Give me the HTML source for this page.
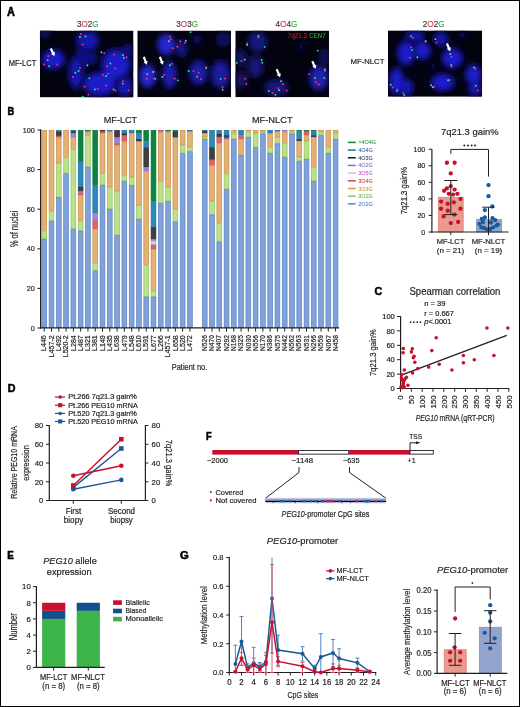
<!DOCTYPE html>
<html><head><meta charset="utf-8"><title>Figure</title><style>
html,body{margin:0;padding:0;background:#fff;width:520px;height:707px;overflow:hidden;}
svg{display:block;will-change:transform;}
text{font-family:"Liberation Sans",sans-serif;}
</style></head><body>
<svg width="520" height="707" viewBox="0 0 520 707" fill="#231f20">
<defs>
<filter id="bl" x="-50%" y="-50%" width="200%" height="200%"><feGaussianBlur stdDeviation="2.4"/></filter>
<filter id="bl2" x="-50%" y="-50%" width="200%" height="200%"><feGaussianBlur stdDeviation="0.45"/></filter>
</defs>
<rect x="0" y="0" width="520" height="707" fill="#fff"/>
<text x="7.1" y="16" font-size="12" fill="#000" stroke="#000" stroke-width="0.55" font-weight="bold" textLength="7.9" lengthAdjust="spacingAndGlyphs">A</text>
<text x="76.9" y="26.7" font-size="9.8" stroke-width="0.2" textLength="21.7" lengthAdjust="spacingAndGlyphs"><tspan fill="#3a3a3c" stroke="#3a3a3c">3</tspan><tspan fill="#e0475e" stroke="#e0475e">O</tspan><tspan fill="#3a3a3c" stroke="#3a3a3c">2</tspan><tspan fill="#3fae49" stroke="#3fae49">G</tspan></text>
<text x="176.3" y="26.7" font-size="9.8" stroke-width="0.2" textLength="21.7" lengthAdjust="spacingAndGlyphs"><tspan fill="#3a3a3c" stroke="#3a3a3c">3</tspan><tspan fill="#e0475e" stroke="#e0475e">O</tspan><tspan fill="#3a3a3c" stroke="#3a3a3c">3</tspan><tspan fill="#3fae49" stroke="#3fae49">G</tspan></text>
<text x="275.6" y="26.7" font-size="9.8" stroke-width="0.2" textLength="21.7" lengthAdjust="spacingAndGlyphs"><tspan fill="#3a3a3c" stroke="#3a3a3c">4</tspan><tspan fill="#e0475e" stroke="#e0475e">O</tspan><tspan fill="#3a3a3c" stroke="#3a3a3c">4</tspan><tspan fill="#3fae49" stroke="#3fae49">G</tspan></text>
<text x="422.8" y="26.7" font-size="9.8" stroke-width="0.2" textLength="21.8" lengthAdjust="spacingAndGlyphs"><tspan fill="#3a3a3c" stroke="#3a3a3c">2</tspan><tspan fill="#e0475e" stroke="#e0475e">O</tspan><tspan fill="#3a3a3c" stroke="#3a3a3c">2</tspan><tspan fill="#3fae49" stroke="#3fae49">G</tspan></text>
<text x="8.7" y="65.9" font-size="8.2" stroke="#231f20" stroke-width="0.2" textLength="27.6" lengthAdjust="spacingAndGlyphs">MF-LCT</text>
<text x="350.6" y="64.4" font-size="8" stroke="#231f20" stroke-width="0.2" textLength="33.8" lengthAdjust="spacingAndGlyphs">MF-NLCT</text>
<clipPath id="clip1"><rect x="39.9" y="30.6" width="93.6" height="66.8"/></clipPath>
<g clip-path="url(#clip1)">
<rect x="39.9" y="30.6" width="93.6" height="66.8" fill="#03030f" />
<g filter="url(#bl)">
<ellipse cx="53.4" cy="59.3" rx="13" ry="11.2" fill="#0d0d66"/>
<ellipse cx="87.5" cy="41" rx="13" ry="11.5" fill="#0a0a59"/>
<ellipse cx="75.8" cy="72.7" rx="8.5" ry="18.5" fill="#0a0a59"/>
<ellipse cx="116" cy="64.3" rx="16.5" ry="17.5" fill="#0d0d66"/>
<ellipse cx="99.6" cy="84" rx="18.5" ry="13.5" fill="#0d0d66"/>
<ellipse cx="124.8" cy="86.8" rx="9.5" ry="11" fill="#0a0a59"/>
<ellipse cx="91" cy="58" rx="6.5" ry="7.5" fill="#080847"/>
<ellipse cx="45" cy="33" rx="7.5" ry="5.5" fill="#070730"/>
<ellipse cx="81" cy="55" rx="6.5" ry="7.5" fill="#080847"/>
<ellipse cx="108" cy="77" rx="10.5" ry="9.5" fill="#0d0d66"/>
<ellipse cx="84" cy="60" rx="5.5" ry="9.5" fill="#080847"/>
<ellipse cx="128" cy="50" rx="5.5" ry="7.5" fill="#080847"/>
<ellipse cx="53.4" cy="59.3" rx="9.2" ry="7.76" fill="#1a1acc"/>
<ellipse cx="87.5" cy="41" rx="9.2" ry="8" fill="#1515b2"/>
<ellipse cx="75.8" cy="72.7" rx="5.6" ry="13.6" fill="#1515b2"/>
<ellipse cx="116" cy="64.3" rx="12" ry="12.8" fill="#1a1acc"/>
<ellipse cx="99.6" cy="84" rx="13.6" ry="9.6" fill="#1a1acc"/>
<ellipse cx="124.8" cy="86.8" rx="6.4" ry="7.6" fill="#1515b2"/>
<ellipse cx="91" cy="58" rx="4" ry="4.8" fill="#10108e"/>
<ellipse cx="45" cy="33" rx="4.8" ry="3.2" fill="#0e0e60"/>
<ellipse cx="81" cy="55" rx="4" ry="4.8" fill="#10108e"/>
<ellipse cx="108" cy="77" rx="7.2" ry="6.4" fill="#1a1acc"/>
<ellipse cx="84" cy="60" rx="3.2" ry="6.4" fill="#10108e"/>
<ellipse cx="128" cy="50" rx="3.2" ry="4.8" fill="#10108e"/>
</g>
<g filter="url(#bl2)">
<circle cx="80.91" cy="33.97" r="1" fill="#ff2a6a" />
<circle cx="82.78" cy="44.42" r="1" fill="#ff2a6a" />
<circle cx="104.23" cy="53.19" r="1" fill="#ff2a6a" />
<circle cx="114.12" cy="54.49" r="1" fill="#ff2a6a" />
<circle cx="126.62" cy="57.29" r="1" fill="#ff2a6a" />
<circle cx="48.26" cy="55.99" r="1" fill="#ff2a6a" />
<circle cx="43.97" cy="64.38" r="1" fill="#ff2a6a" />
<circle cx="57.22" cy="64.38" r="1" fill="#ff2a6a" />
<circle cx="79.98" cy="68.11" r="1" fill="#ff2a6a" />
<circle cx="73.07" cy="76.88" r="1" fill="#ff2a6a" />
<circle cx="107.03" cy="66.25" r="1" fill="#ff2a6a" />
<circle cx="115.43" cy="68.49" r="1" fill="#ff2a6a" />
<circle cx="102.93" cy="74.64" r="1" fill="#ff2a6a" />
<circle cx="107.96" cy="73.71" r="1" fill="#ff2a6a" />
<circle cx="84.64" cy="86.77" r="1" fill="#ff2a6a" />
<circle cx="97.7" cy="88.63" r="1" fill="#ff2a6a" />
<circle cx="106.1" cy="85.46" r="1" fill="#ff2a6a" />
<circle cx="122.89" cy="81.17" r="1" fill="#ff2a6a" />
<circle cx="128.49" cy="90.5" r="1" fill="#ff2a6a" />
<circle cx="115.43" cy="90.5" r="1" fill="#ff2a6a" />
<circle cx="88.37" cy="94.79" r="1" fill="#ff2a6a" />
<circle cx="79.98" cy="36.96" r="0.95" fill="#30f090" />
<circle cx="85.57" cy="36.4" r="0.95" fill="#30f090" />
<circle cx="101.43" cy="52.25" r="0.95" fill="#30f090" />
<circle cx="122.89" cy="55.05" r="0.95" fill="#30f090" />
<circle cx="123.82" cy="57.85" r="0.95" fill="#30f090" />
<circle cx="47.7" cy="60.09" r="0.95" fill="#30f090" />
<circle cx="49.19" cy="66.25" r="0.95" fill="#30f090" />
<circle cx="87.44" cy="65.31" r="0.95" fill="#30f090" />
<circle cx="75.31" cy="72.78" r="0.95" fill="#30f090" />
<circle cx="78.67" cy="70.91" r="0.95" fill="#30f090" />
<circle cx="110.39" cy="63.45" r="0.95" fill="#30f090" />
<circle cx="89.31" cy="78.37" r="0.95" fill="#30f090" />
<circle cx="106.1" cy="76.13" r="0.95" fill="#30f090" />
<circle cx="94.9" cy="89.57" r="0.95" fill="#30f090" />
<circle cx="122.89" cy="83.6" r="0.95" fill="#30f090" />
<circle cx="113.56" cy="89.57" r="0.95" fill="#30f090" />
<circle cx="82.78" cy="96.66" r="0.95" fill="#30f090" />
</g>
<polygon points="49.81,48.88 52.04,53.51 51,54.01 54.5,56.1 55.06,52.06 54.02,52.56 51.79,47.92" fill="#fff" filter="url(#bl2)"/>
</g>
<clipPath id="clip2"><rect x="137.3" y="30.6" width="93.7" height="66.7"/></clipPath>
<g clip-path="url(#clip2)">
<rect x="137.3" y="30.6" width="93.7" height="66.7" fill="#03030f" />
<g filter="url(#bl)">
<ellipse cx="166.1" cy="44.5" rx="10" ry="12" fill="#13136a"/>
<ellipse cx="181.5" cy="48.5" rx="6.5" ry="10" fill="#0b0b48"/>
<ellipse cx="147.7" cy="76" rx="9.5" ry="13" fill="#14146c"/>
<ellipse cx="169.4" cy="75" rx="8.5" ry="15.5" fill="#0f0f5a"/>
<ellipse cx="198.5" cy="72.7" rx="10.5" ry="14" fill="#0e0e56"/>
<ellipse cx="220.5" cy="74.5" rx="11" ry="16" fill="#0d0d50"/>
<ellipse cx="223.5" cy="39.3" rx="8.5" ry="8.5" fill="#080835"/>
<ellipse cx="197" cy="39.3" rx="6.5" ry="6.5" fill="#06062a"/>
<ellipse cx="166.1" cy="44.5" rx="6.8" ry="8.4" fill="#2626d4"/>
<ellipse cx="181.5" cy="48.5" rx="4" ry="6.8" fill="#161690"/>
<ellipse cx="147.7" cy="76" rx="6.4" ry="9.2" fill="#2828d8"/>
<ellipse cx="169.4" cy="75" rx="5.6" ry="11.2" fill="#1e1eb4"/>
<ellipse cx="198.5" cy="72.7" rx="7.2" ry="10" fill="#1c1cac"/>
<ellipse cx="220.5" cy="74.5" rx="7.6" ry="11.6" fill="#1a1aa0"/>
<ellipse cx="223.5" cy="39.3" rx="5.6" ry="5.6" fill="#10106a"/>
<ellipse cx="197" cy="39.3" rx="4" ry="4" fill="#0c0c55"/>
</g>
<g filter="url(#bl2)">
<circle cx="169.84" cy="36.47" r="1" fill="#ff2a6a" />
<circle cx="170.78" cy="39.3" r="1" fill="#ff2a6a" />
<circle cx="180.2" cy="41.18" r="1" fill="#ff2a6a" />
<circle cx="184.91" cy="42.69" r="1" fill="#ff2a6a" />
<circle cx="177.37" cy="46.83" r="1" fill="#ff2a6a" />
<circle cx="172.66" cy="48.34" r="1" fill="#ff2a6a" />
<circle cx="171.72" cy="63.78" r="1" fill="#ff2a6a" />
<circle cx="152.89" cy="72.26" r="1" fill="#ff2a6a" />
<circle cx="164.19" cy="74.7" r="1" fill="#ff2a6a" />
<circle cx="174.55" cy="78.85" r="1" fill="#ff2a6a" />
<circle cx="153.83" cy="78.47" r="1" fill="#ff2a6a" />
<circle cx="146.68" cy="78.85" r="1" fill="#ff2a6a" />
<circle cx="193.38" cy="70.94" r="1" fill="#ff2a6a" />
<circle cx="198.65" cy="72.82" r="1" fill="#ff2a6a" />
<circle cx="200.91" cy="79.22" r="1" fill="#ff2a6a" />
<circle cx="206.19" cy="67.17" r="1" fill="#ff2a6a" />
<circle cx="225.02" cy="78.47" r="1" fill="#ff2a6a" />
<circle cx="222.57" cy="87.32" r="1" fill="#ff2a6a" />
<circle cx="168.9" cy="41.18" r="0.95" fill="#30f090" />
<circle cx="185.85" cy="40.81" r="0.95" fill="#30f090" />
<circle cx="169.84" cy="65.29" r="0.95" fill="#30f090" />
<circle cx="153.46" cy="71.69" r="0.95" fill="#30f090" />
<circle cx="155.34" cy="78.85" r="0.95" fill="#30f090" />
<circle cx="147.24" cy="74.14" r="0.95" fill="#30f090" />
<circle cx="162.31" cy="76.96" r="0.95" fill="#30f090" />
<circle cx="177.94" cy="80.35" r="0.95" fill="#30f090" />
<circle cx="188.67" cy="70.94" r="0.95" fill="#30f090" />
<circle cx="197.15" cy="76.59" r="0.95" fill="#30f090" />
<circle cx="206.19" cy="68.11" r="0.95" fill="#30f090" />
<circle cx="220.69" cy="78.85" r="0.95" fill="#30f090" />
<circle cx="222.57" cy="89.77" r="0.95" fill="#30f090" />
<circle cx="190.56" cy="32.14" r="0.95" fill="#30f090" />
</g>
<polygon points="142.77,57.29 144.55,61.92 143.48,62.33 146.8,64.7 147.68,60.72 146.61,61.13 144.83,56.51" fill="#fff" filter="url(#bl2)"/>
<polygon points="158.87,57.29 160.65,61.92 159.58,62.33 162.9,64.7 163.78,60.72 162.71,61.13 160.93,56.51" fill="#fff" filter="url(#bl2)"/>
</g>
<clipPath id="clip3"><rect x="235.3" y="30.6" width="93.7" height="66.7"/></clipPath>
<g clip-path="url(#clip3)">
<rect x="235.3" y="30.6" width="93.7" height="66.7" fill="#03030f" />
<g filter="url(#bl)">
<ellipse cx="257.5" cy="41.6" rx="11" ry="11.5" fill="#0c0c40"/>
<ellipse cx="241" cy="58" rx="7" ry="10" fill="#090935"/>
<ellipse cx="255.5" cy="66.6" rx="9" ry="12.5" fill="#0b0b3c"/>
<ellipse cx="241" cy="80" rx="7.5" ry="9.5" fill="#090935"/>
<ellipse cx="276.3" cy="87.8" rx="13.5" ry="9.5" fill="#0c0c42"/>
<ellipse cx="318.7" cy="78" rx="11" ry="14.5" fill="#101058"/>
<ellipse cx="324.3" cy="57" rx="6" ry="9.5" fill="#08082f"/>
<ellipse cx="301" cy="46.8" rx="5" ry="5" fill="#050520"/>
<ellipse cx="257.5" cy="41.6" rx="7.6" ry="8" fill="#181880"/>
<ellipse cx="241" cy="58" rx="4.4" ry="6.8" fill="#12126a"/>
<ellipse cx="255.5" cy="66.6" rx="6" ry="8.8" fill="#161678"/>
<ellipse cx="241" cy="80" rx="4.8" ry="6.4" fill="#12126a"/>
<ellipse cx="276.3" cy="87.8" rx="9.6" ry="6.4" fill="#181884"/>
<ellipse cx="318.7" cy="78" rx="7.6" ry="10.4" fill="#2020b0"/>
<ellipse cx="324.3" cy="57" rx="3.6" ry="6.4" fill="#10105e"/>
<ellipse cx="301" cy="46.8" rx="2.8" ry="2.8" fill="#0a0a40"/>
</g>
<g filter="url(#bl2)">
<circle cx="247.12" cy="43.44" r="1" fill="#ff2a6a" />
<circle cx="258.42" cy="37.42" r="1" fill="#ff2a6a" />
<circle cx="241.47" cy="60.96" r="1" fill="#ff2a6a" />
<circle cx="245.24" cy="78.85" r="1" fill="#ff2a6a" />
<circle cx="246.18" cy="84.12" r="1" fill="#ff2a6a" />
<circle cx="282.91" cy="84.12" r="1" fill="#ff2a6a" />
<circle cx="286.67" cy="90.52" r="1" fill="#ff2a6a" />
<circle cx="272.55" cy="92.97" r="1" fill="#ff2a6a" />
<circle cx="278.2" cy="88.26" r="1" fill="#ff2a6a" />
<circle cx="309.27" cy="74.14" r="1" fill="#ff2a6a" />
<circle cx="315.86" cy="82.24" r="1" fill="#ff2a6a" />
<circle cx="318.69" cy="84.5" r="1" fill="#ff2a6a" />
<circle cx="324.9" cy="70.94" r="1" fill="#ff2a6a" />
<circle cx="258.42" cy="35.91" r="0.95" fill="#30f090" />
<circle cx="247.12" cy="44.95" r="0.95" fill="#30f090" />
<circle cx="264.64" cy="46.83" r="0.95" fill="#30f090" />
<circle cx="236.77" cy="62.84" r="0.95" fill="#30f090" />
<circle cx="244.68" cy="59.64" r="0.95" fill="#30f090" />
<circle cx="261.63" cy="60.02" r="0.95" fill="#30f090" />
<circle cx="262.19" cy="62.84" r="0.95" fill="#30f090" />
<circle cx="281.02" cy="81.3" r="0.95" fill="#30f090" />
<circle cx="268.78" cy="91.09" r="0.95" fill="#30f090" />
<circle cx="279.14" cy="90.15" r="0.95" fill="#30f090" />
<circle cx="275.37" cy="94.85" r="0.95" fill="#30f090" />
<circle cx="314.92" cy="77.91" r="0.95" fill="#30f090" />
<circle cx="324.9" cy="69.43" r="0.95" fill="#30f090" />
<circle cx="324.34" cy="77.91" r="0.95" fill="#30f090" />
<circle cx="317.75" cy="50.6" r="0.95" fill="#30f090" />
</g>
<polygon points="275.69,69.73 277.76,74.6 276.7,75.05 280.1,77.3 280.84,73.29 279.78,73.74 277.71,68.87" fill="#fff" filter="url(#bl2)"/>
<polygon points="311.3,61.65 313.31,66.15 312.26,66.62 315.7,68.8 316.37,64.78 315.32,65.25 313.3,60.75" fill="#fff" filter="url(#bl2)"/>
</g>
<text x="287.6" y="37.9" font-size="7" fill="#e01a1a" stroke="#e01a1a" stroke-width="0.1" textLength="19.6" lengthAdjust="spacingAndGlyphs">7q21.3</text>
<text x="309.3" y="37.9" font-size="7" fill="#1ec21e" stroke="#1ec21e" stroke-width="0.1" textLength="16.3" lengthAdjust="spacingAndGlyphs">CEN7</text>
<clipPath id="clip4"><rect x="387.9" y="30.4" width="94.2" height="66.4"/></clipPath>
<g clip-path="url(#clip4)">
<rect x="387.9" y="30.4" width="94.2" height="66.4" fill="#03030f" />
<g filter="url(#bl)">
<ellipse cx="414.8" cy="35.9" rx="11" ry="6.5" fill="#0a0a59"/>
<ellipse cx="406" cy="53" rx="10" ry="14" fill="#0d0d66"/>
<ellipse cx="422.5" cy="50.6" rx="9.5" ry="10.5" fill="#0d0d66"/>
<ellipse cx="440.8" cy="39" rx="8.5" ry="8.5" fill="#0a0a59"/>
<ellipse cx="452.3" cy="58.2" rx="12" ry="11.5" fill="#0d0d66"/>
<ellipse cx="396.5" cy="81" rx="8.5" ry="15" fill="#0d0d66"/>
<ellipse cx="406.2" cy="87.4" rx="8.5" ry="10" fill="#0a0a59"/>
<ellipse cx="442.7" cy="82.4" rx="13.5" ry="10" fill="#0d0d66"/>
<ellipse cx="473.5" cy="74.6" rx="9.5" ry="11.5" fill="#0d0d66"/>
<ellipse cx="475" cy="88.4" rx="8" ry="9" fill="#0a0a59"/>
<ellipse cx="433" cy="66.5" rx="4.5" ry="4.5" fill="#060628"/>
<ellipse cx="462" cy="34.7" rx="5.5" ry="4.5" fill="#060628"/>
<ellipse cx="414.8" cy="35.9" rx="7.6" ry="4" fill="#1515b2"/>
<ellipse cx="406" cy="53" rx="6.8" ry="10" fill="#1a1acc"/>
<ellipse cx="422.5" cy="50.6" rx="6.4" ry="7.2" fill="#1a1acc"/>
<ellipse cx="440.8" cy="39" rx="5.6" ry="5.6" fill="#1515b2"/>
<ellipse cx="452.3" cy="58.2" rx="8.4" ry="8" fill="#1a1acc"/>
<ellipse cx="396.5" cy="81" rx="5.6" ry="10.8" fill="#1a1acc"/>
<ellipse cx="406.2" cy="87.4" rx="5.6" ry="6.8" fill="#1515b2"/>
<ellipse cx="442.7" cy="82.4" rx="9.6" ry="6.8" fill="#1a1acc"/>
<ellipse cx="473.5" cy="74.6" rx="6.4" ry="8" fill="#1a1acc"/>
<ellipse cx="475" cy="88.4" rx="5.2" ry="6" fill="#1515b2"/>
<ellipse cx="433" cy="66.5" rx="2.4" ry="2.4" fill="#0c0c50"/>
<ellipse cx="462" cy="34.7" rx="3.2" ry="2.4" fill="#0c0c50"/>
</g>
<g filter="url(#bl2)">
<circle cx="412.88" cy="38" r="1" fill="#ff2a6a" />
<circle cx="436.54" cy="42.42" r="1" fill="#ff2a6a" />
<circle cx="425.38" cy="41.85" r="1" fill="#ff2a6a" />
<circle cx="410.96" cy="47.23" r="1" fill="#ff2a6a" />
<circle cx="410" cy="57.81" r="1" fill="#ff2a6a" />
<circle cx="451.35" cy="56.85" r="1" fill="#ff2a6a" />
<circle cx="451.35" cy="66.46" r="1" fill="#ff2a6a" />
<circle cx="449.42" cy="80.31" r="1" fill="#ff2a6a" />
<circle cx="434.04" cy="86.65" r="1" fill="#ff2a6a" />
<circle cx="392.69" cy="87.62" r="1" fill="#ff2a6a" />
<circle cx="397.5" cy="89.54" r="1" fill="#ff2a6a" />
<circle cx="403.27" cy="93" r="1" fill="#ff2a6a" />
<circle cx="475.38" cy="68.38" r="1" fill="#ff2a6a" />
<circle cx="477.69" cy="90.5" r="1" fill="#ff2a6a" />
<circle cx="410.96" cy="36.08" r="0.95" fill="#30f090" />
<circle cx="435.38" cy="39.15" r="0.95" fill="#30f090" />
<circle cx="425.77" cy="41.08" r="0.95" fill="#30f090" />
<circle cx="411.92" cy="50.12" r="0.95" fill="#30f090" />
<circle cx="417.31" cy="57.23" r="0.95" fill="#30f090" />
<circle cx="450.38" cy="53.96" r="0.95" fill="#30f090" />
<circle cx="451.35" cy="64.92" r="0.95" fill="#30f090" />
<circle cx="448.08" cy="80.31" r="0.95" fill="#30f090" />
<circle cx="431.15" cy="85.31" r="0.95" fill="#30f090" />
<circle cx="432.69" cy="87.23" r="0.95" fill="#30f090" />
<circle cx="390.77" cy="84.73" r="0.95" fill="#30f090" />
<circle cx="396.92" cy="91.08" r="0.95" fill="#30f090" />
<circle cx="404.23" cy="94.92" r="0.95" fill="#30f090" />
<circle cx="473.85" cy="67.42" r="0.95" fill="#30f090" />
<circle cx="475.77" cy="85.69" r="0.95" fill="#30f090" />
</g>
<polygon points="445.89,43.93 447.86,48.6 446.8,49.05 450.2,51.3 450.95,47.29 449.89,47.74 447.91,43.07" fill="#fff" filter="url(#bl2)"/>
</g>
<text x="7.5" y="115" font-size="11.3" fill="#000" stroke="#000" stroke-width="0.55" font-weight="bold" textLength="6.8" lengthAdjust="spacingAndGlyphs">B</text>
<text x="103.8" y="123" font-size="9.7" stroke="#231f20" stroke-width="0.2" textLength="33.3" lengthAdjust="spacingAndGlyphs">MF-LCT</text>
<text x="251.9" y="122.9" font-size="9.5" stroke="#231f20" stroke-width="0.2" textLength="40.7" lengthAdjust="spacingAndGlyphs">MF-NLCT</text>
<rect x="41.85" y="130.35" width="4.75" height="100.08" fill="#e2b173" stroke="#c98e48" stroke-width="0.7" />
<rect x="41.85" y="231.13" width="4.75" height="7.42" fill="#bde08d" stroke="#90c45c" stroke-width="0.7" />
<rect x="41.85" y="239.25" width="4.75" height="88.4" fill="#7fa2d8" stroke="#5b81c2" stroke-width="0.7" />
<rect x="49.13" y="130.35" width="4.75" height="80.28" fill="#e2b173" stroke="#c98e48" stroke-width="0.7" />
<rect x="49.13" y="211.33" width="4.75" height="9.2" fill="#bde08d" stroke="#90c45c" stroke-width="0.7" />
<rect x="49.13" y="221.23" width="4.75" height="106.42" fill="#7fa2d8" stroke="#5b81c2" stroke-width="0.7" />
<rect x="56.42" y="130.35" width="4.75" height="0.88" fill="#2a8bbb" stroke="#1d6f9a" stroke-width="0.7" />
<rect x="56.42" y="131.93" width="4.75" height="3.66" fill="#404040" stroke="#2a2a2a" stroke-width="0.7" />
<rect x="56.42" y="136.29" width="4.75" height="0.88" fill="#e2646f" stroke="#c8464f" stroke-width="0.7" />
<rect x="56.42" y="137.87" width="4.75" height="25.04" fill="#e2b173" stroke="#c98e48" stroke-width="0.7" />
<rect x="56.42" y="163.61" width="4.75" height="33.16" fill="#bde08d" stroke="#90c45c" stroke-width="0.7" />
<rect x="56.42" y="197.47" width="4.75" height="130.18" fill="#7fa2d8" stroke="#5b81c2" stroke-width="0.7" />
<rect x="63.71" y="130.35" width="4.75" height="26.82" fill="#e2b173" stroke="#c98e48" stroke-width="0.7" />
<rect x="63.71" y="157.87" width="4.75" height="15.14" fill="#bde08d" stroke="#90c45c" stroke-width="0.7" />
<rect x="63.71" y="173.71" width="4.75" height="153.94" fill="#7fa2d8" stroke="#5b81c2" stroke-width="0.7" />
<rect x="70.99" y="130.35" width="4.75" height="0.69" fill="#2a8bbb" stroke="#1d6f9a" stroke-width="0.7" />
<rect x="70.99" y="131.74" width="4.75" height="1.28" fill="#404040" stroke="#2a2a2a" stroke-width="0.7" />
<rect x="70.99" y="133.72" width="4.75" height="3.06" fill="#a385dd" stroke="#8466c4" stroke-width="0.7" />
<rect x="70.99" y="137.48" width="4.75" height="11.58" fill="#e2b173" stroke="#c98e48" stroke-width="0.7" />
<rect x="70.99" y="149.75" width="4.75" height="78.7" fill="#bde08d" stroke="#90c45c" stroke-width="0.7" />
<rect x="70.99" y="229.15" width="4.75" height="98.5" fill="#7fa2d8" stroke="#5b81c2" stroke-width="0.7" />
<rect x="78.27" y="130.35" width="4.75" height="30.98" fill="#0c8540" stroke="#0a6e34" stroke-width="0.7" />
<rect x="78.27" y="162.03" width="4.75" height="24.64" fill="#2a8bbb" stroke="#1d6f9a" stroke-width="0.7" />
<rect x="78.27" y="187.37" width="4.75" height="3.46" fill="#404040" stroke="#2a2a2a" stroke-width="0.7" />
<rect x="78.27" y="191.53" width="4.75" height="0.69" fill="#a385dd" stroke="#8466c4" stroke-width="0.7" />
<rect x="78.27" y="192.92" width="4.75" height="2.07" fill="#e2646f" stroke="#c8464f" stroke-width="0.7" />
<rect x="78.27" y="195.69" width="4.75" height="24.84" fill="#e2b173" stroke="#c98e48" stroke-width="0.7" />
<rect x="78.27" y="221.23" width="4.75" height="9.2" fill="#bde08d" stroke="#90c45c" stroke-width="0.7" />
<rect x="78.27" y="231.13" width="4.75" height="96.52" fill="#7fa2d8" stroke="#5b81c2" stroke-width="0.7" />
<rect x="85.56" y="130.35" width="4.75" height="0.88" fill="#0c8540" stroke="#0a6e34" stroke-width="0.7" />
<rect x="85.56" y="131.93" width="4.75" height="3.26" fill="#e2b173" stroke="#c98e48" stroke-width="0.7" />
<rect x="85.56" y="135.89" width="4.75" height="30.78" fill="#bde08d" stroke="#90c45c" stroke-width="0.7" />
<rect x="85.56" y="167.38" width="4.75" height="160.27" fill="#7fa2d8" stroke="#5b81c2" stroke-width="0.7" />
<rect x="92.84" y="130.35" width="4.75" height="54.94" fill="#0c8540" stroke="#0a6e34" stroke-width="0.7" />
<rect x="92.84" y="185.99" width="4.75" height="26.82" fill="#2a8bbb" stroke="#1d6f9a" stroke-width="0.7" />
<rect x="92.84" y="213.51" width="4.75" height="7.02" fill="#a385dd" stroke="#8466c4" stroke-width="0.7" />
<rect x="92.84" y="221.23" width="4.75" height="7.22" fill="#e2646f" stroke="#c8464f" stroke-width="0.7" />
<rect x="92.84" y="229.15" width="4.75" height="33.16" fill="#e2b173" stroke="#c98e48" stroke-width="0.7" />
<rect x="92.84" y="263.01" width="4.75" height="7.22" fill="#bde08d" stroke="#90c45c" stroke-width="0.7" />
<rect x="92.84" y="270.93" width="4.75" height="56.72" fill="#7fa2d8" stroke="#5b81c2" stroke-width="0.7" />
<rect x="100.13" y="130.35" width="4.75" height="0.88" fill="#404040" stroke="#2a2a2a" stroke-width="0.7" />
<rect x="100.13" y="131.93" width="4.75" height="1.08" fill="#e2646f" stroke="#c8464f" stroke-width="0.7" />
<rect x="100.13" y="133.72" width="4.75" height="39.3" fill="#e2b173" stroke="#c98e48" stroke-width="0.7" />
<rect x="100.13" y="173.71" width="4.75" height="10.98" fill="#bde08d" stroke="#90c45c" stroke-width="0.7" />
<rect x="100.13" y="185.39" width="4.75" height="142.26" fill="#7fa2d8" stroke="#5b81c2" stroke-width="0.7" />
<rect x="107.41" y="130.35" width="4.75" height="0.88" fill="#2a8bbb" stroke="#1d6f9a" stroke-width="0.7" />
<rect x="107.41" y="131.93" width="4.75" height="55.14" fill="#e2b173" stroke="#c98e48" stroke-width="0.7" />
<rect x="107.41" y="187.77" width="4.75" height="20.88" fill="#bde08d" stroke="#90c45c" stroke-width="0.7" />
<rect x="107.41" y="209.35" width="4.75" height="118.3" fill="#7fa2d8" stroke="#5b81c2" stroke-width="0.7" />
<rect x="114.7" y="130.35" width="4.75" height="6.82" fill="#404040" stroke="#2a2a2a" stroke-width="0.7" />
<rect x="114.7" y="137.87" width="4.75" height="4.65" fill="#a385dd" stroke="#8466c4" stroke-width="0.7" />
<rect x="114.7" y="143.22" width="4.75" height="1.68" fill="#e2646f" stroke="#c8464f" stroke-width="0.7" />
<rect x="114.7" y="145.6" width="4.75" height="45.24" fill="#e2b173" stroke="#c98e48" stroke-width="0.7" />
<rect x="114.7" y="191.53" width="4.75" height="43.26" fill="#bde08d" stroke="#90c45c" stroke-width="0.7" />
<rect x="114.7" y="235.49" width="4.75" height="92.16" fill="#7fa2d8" stroke="#5b81c2" stroke-width="0.7" />
<rect x="121.98" y="130.35" width="4.75" height="2.67" fill="#2a8bbb" stroke="#1d6f9a" stroke-width="0.7" />
<rect x="121.98" y="133.72" width="4.75" height="1.48" fill="#404040" stroke="#2a2a2a" stroke-width="0.7" />
<rect x="121.98" y="135.89" width="4.75" height="5.24" fill="#e2646f" stroke="#c8464f" stroke-width="0.7" />
<rect x="121.98" y="141.83" width="4.75" height="32.96" fill="#e2b173" stroke="#c98e48" stroke-width="0.7" />
<rect x="121.98" y="175.49" width="4.75" height="5.24" fill="#bde08d" stroke="#90c45c" stroke-width="0.7" />
<rect x="121.98" y="181.43" width="4.75" height="146.22" fill="#7fa2d8" stroke="#5b81c2" stroke-width="0.7" />
<rect x="129.27" y="130.35" width="4.75" height="2.67" fill="#2a8bbb" stroke="#1d6f9a" stroke-width="0.7" />
<rect x="129.27" y="133.72" width="4.75" height="43.06" fill="#e2b173" stroke="#c98e48" stroke-width="0.7" />
<rect x="129.27" y="177.47" width="4.75" height="7.42" fill="#bde08d" stroke="#90c45c" stroke-width="0.7" />
<rect x="129.27" y="185.59" width="4.75" height="142.06" fill="#7fa2d8" stroke="#5b81c2" stroke-width="0.7" />
<rect x="136.55" y="130.35" width="4.75" height="2.67" fill="#0c8540" stroke="#0a6e34" stroke-width="0.7" />
<rect x="136.55" y="133.72" width="4.75" height="5.04" fill="#2a8bbb" stroke="#1d6f9a" stroke-width="0.7" />
<rect x="136.55" y="139.46" width="4.75" height="1.68" fill="#404040" stroke="#2a2a2a" stroke-width="0.7" />
<rect x="136.55" y="141.83" width="4.75" height="63.06" fill="#e2b173" stroke="#c98e48" stroke-width="0.7" />
<rect x="136.55" y="205.59" width="4.75" height="13.16" fill="#bde08d" stroke="#90c45c" stroke-width="0.7" />
<rect x="136.55" y="219.45" width="4.75" height="108.2" fill="#7fa2d8" stroke="#5b81c2" stroke-width="0.7" />
<rect x="143.84" y="130.35" width="4.75" height="10.78" fill="#0c8540" stroke="#0a6e34" stroke-width="0.7" />
<rect x="143.84" y="141.83" width="4.75" height="5.24" fill="#2a8bbb" stroke="#1d6f9a" stroke-width="0.7" />
<rect x="143.84" y="147.77" width="4.75" height="19.3" fill="#404040" stroke="#2a2a2a" stroke-width="0.7" />
<rect x="143.84" y="167.77" width="4.75" height="3.26" fill="#a385dd" stroke="#8466c4" stroke-width="0.7" />
<rect x="143.84" y="171.73" width="4.75" height="92.76" fill="#e2b173" stroke="#c98e48" stroke-width="0.7" />
<rect x="143.84" y="265.19" width="4.75" height="31.18" fill="#bde08d" stroke="#90c45c" stroke-width="0.7" />
<rect x="143.84" y="297.07" width="4.75" height="30.58" fill="#7fa2d8" stroke="#5b81c2" stroke-width="0.7" />
<rect x="151.12" y="130.35" width="4.75" height="70.78" fill="#0c8540" stroke="#0a6e34" stroke-width="0.7" />
<rect x="151.12" y="201.83" width="4.75" height="25.04" fill="#2a8bbb" stroke="#1d6f9a" stroke-width="0.7" />
<rect x="151.12" y="227.57" width="4.75" height="11.18" fill="#404040" stroke="#2a2a2a" stroke-width="0.7" />
<rect x="151.12" y="239.45" width="4.75" height="0.88" fill="#a385dd" stroke="#8466c4" stroke-width="0.7" />
<rect x="151.12" y="241.03" width="4.75" height="3.46" fill="#cfcfcf" stroke="#b0b0b0" stroke-width="0.7" />
<rect x="151.12" y="245.19" width="4.75" height="3.46" fill="#e2646f" stroke="#c8464f" stroke-width="0.7" />
<rect x="151.12" y="249.35" width="4.75" height="40.88" fill="#e2b173" stroke="#c98e48" stroke-width="0.7" />
<rect x="151.12" y="290.93" width="4.75" height="5.44" fill="#bde08d" stroke="#90c45c" stroke-width="0.7" />
<rect x="151.12" y="297.07" width="4.75" height="30.58" fill="#7fa2d8" stroke="#5b81c2" stroke-width="0.7" />
<rect x="158.41" y="130.35" width="4.75" height="1.08" fill="#e2646f" stroke="#c8464f" stroke-width="0.7" />
<rect x="158.41" y="132.13" width="4.75" height="49" fill="#e2b173" stroke="#c98e48" stroke-width="0.7" />
<rect x="158.41" y="181.83" width="4.75" height="21.08" fill="#bde08d" stroke="#90c45c" stroke-width="0.7" />
<rect x="158.41" y="203.61" width="4.75" height="124.04" fill="#7fa2d8" stroke="#5b81c2" stroke-width="0.7" />
<rect x="165.69" y="130.35" width="4.75" height="0.88" fill="#0c8540" stroke="#0a6e34" stroke-width="0.7" />
<rect x="165.69" y="131.93" width="4.75" height="55.14" fill="#e2b173" stroke="#c98e48" stroke-width="0.7" />
<rect x="165.69" y="187.77" width="4.75" height="13.16" fill="#bde08d" stroke="#90c45c" stroke-width="0.7" />
<rect x="165.69" y="201.63" width="4.75" height="126.02" fill="#7fa2d8" stroke="#5b81c2" stroke-width="0.7" />
<rect x="172.98" y="130.35" width="4.75" height="0.88" fill="#0c8540" stroke="#0a6e34" stroke-width="0.7" />
<rect x="172.98" y="131.93" width="4.75" height="5.24" fill="#404040" stroke="#2a2a2a" stroke-width="0.7" />
<rect x="172.98" y="137.87" width="4.75" height="70.98" fill="#e2b173" stroke="#c98e48" stroke-width="0.7" />
<rect x="172.98" y="209.55" width="4.75" height="11.58" fill="#bde08d" stroke="#90c45c" stroke-width="0.7" />
<rect x="172.98" y="221.83" width="4.75" height="105.82" fill="#7fa2d8" stroke="#5b81c2" stroke-width="0.7" />
<rect x="180.26" y="130.35" width="4.75" height="14.55" fill="#e2b173" stroke="#c98e48" stroke-width="0.7" />
<rect x="180.26" y="145.6" width="4.75" height="7.42" fill="#bde08d" stroke="#90c45c" stroke-width="0.7" />
<rect x="180.26" y="153.71" width="4.75" height="173.94" fill="#7fa2d8" stroke="#5b81c2" stroke-width="0.7" />
<rect x="187.55" y="130.35" width="4.75" height="0.88" fill="#2a8bbb" stroke="#1d6f9a" stroke-width="0.7" />
<rect x="187.55" y="131.93" width="4.75" height="14.94" fill="#e2b173" stroke="#c98e48" stroke-width="0.7" />
<rect x="187.55" y="147.58" width="4.75" height="3.46" fill="#bde08d" stroke="#90c45c" stroke-width="0.7" />
<rect x="187.55" y="151.73" width="4.75" height="175.92" fill="#7fa2d8" stroke="#5b81c2" stroke-width="0.7" />
<rect x="202.35" y="130.35" width="4.75" height="0.69" fill="#2a8bbb" stroke="#1d6f9a" stroke-width="0.7" />
<rect x="202.35" y="131.74" width="4.75" height="1.28" fill="#404040" stroke="#2a2a2a" stroke-width="0.7" />
<rect x="202.35" y="133.72" width="4.75" height="3.06" fill="#e2b173" stroke="#c98e48" stroke-width="0.7" />
<rect x="202.35" y="137.48" width="4.75" height="1.28" fill="#bde08d" stroke="#90c45c" stroke-width="0.7" />
<rect x="202.35" y="139.46" width="4.75" height="188.19" fill="#7fa2d8" stroke="#5b81c2" stroke-width="0.7" />
<rect x="209.62" y="130.35" width="4.75" height="16.72" fill="#2a8bbb" stroke="#1d6f9a" stroke-width="0.7" />
<rect x="209.62" y="147.77" width="4.75" height="11.58" fill="#404040" stroke="#2a2a2a" stroke-width="0.7" />
<rect x="209.62" y="160.05" width="4.75" height="5.04" fill="#e2646f" stroke="#c8464f" stroke-width="0.7" />
<rect x="209.62" y="165.79" width="4.75" height="35.14" fill="#e2b173" stroke="#c98e48" stroke-width="0.7" />
<rect x="209.62" y="201.63" width="4.75" height="12.57" fill="#bde08d" stroke="#90c45c" stroke-width="0.7" />
<rect x="209.62" y="214.9" width="4.75" height="112.75" fill="#7fa2d8" stroke="#5b81c2" stroke-width="0.7" />
<rect x="216.89" y="130.35" width="4.75" height="2.86" fill="#2a8bbb" stroke="#1d6f9a" stroke-width="0.7" />
<rect x="216.89" y="133.91" width="4.75" height="2.86" fill="#404040" stroke="#2a2a2a" stroke-width="0.7" />
<rect x="216.89" y="137.48" width="4.75" height="5.64" fill="#e2646f" stroke="#c8464f" stroke-width="0.7" />
<rect x="216.89" y="143.81" width="4.75" height="78.9" fill="#e2b173" stroke="#c98e48" stroke-width="0.7" />
<rect x="216.89" y="223.41" width="4.75" height="17.71" fill="#bde08d" stroke="#90c45c" stroke-width="0.7" />
<rect x="216.89" y="241.82" width="4.75" height="85.83" fill="#7fa2d8" stroke="#5b81c2" stroke-width="0.7" />
<rect x="224.16" y="130.35" width="4.75" height="4.65" fill="#2a8bbb" stroke="#1d6f9a" stroke-width="0.7" />
<rect x="224.16" y="135.7" width="4.75" height="1.68" fill="#404040" stroke="#2a2a2a" stroke-width="0.7" />
<rect x="224.16" y="138.07" width="4.75" height="0.69" fill="#a385dd" stroke="#8466c4" stroke-width="0.7" />
<rect x="224.16" y="139.46" width="4.75" height="33.75" fill="#e2b173" stroke="#c98e48" stroke-width="0.7" />
<rect x="224.16" y="173.91" width="4.75" height="14.94" fill="#bde08d" stroke="#90c45c" stroke-width="0.7" />
<rect x="224.16" y="189.55" width="4.75" height="138.1" fill="#7fa2d8" stroke="#5b81c2" stroke-width="0.7" />
<rect x="231.43" y="130.35" width="4.75" height="2.86" fill="#e2b173" stroke="#c98e48" stroke-width="0.7" />
<rect x="231.43" y="133.91" width="4.75" height="4.84" fill="#bde08d" stroke="#90c45c" stroke-width="0.7" />
<rect x="231.43" y="139.46" width="4.75" height="188.19" fill="#7fa2d8" stroke="#5b81c2" stroke-width="0.7" />
<rect x="238.7" y="130.35" width="4.75" height="4.65" fill="#2a8bbb" stroke="#1d6f9a" stroke-width="0.7" />
<rect x="238.7" y="135.7" width="4.75" height="3.06" fill="#e2646f" stroke="#c8464f" stroke-width="0.7" />
<rect x="238.7" y="139.46" width="4.75" height="15.34" fill="#e2b173" stroke="#c98e48" stroke-width="0.7" />
<rect x="238.7" y="155.5" width="4.75" height="172.15" fill="#7fa2d8" stroke="#5b81c2" stroke-width="0.7" />
<rect x="245.97" y="130.35" width="4.75" height="0.88" fill="#e2b173" stroke="#c98e48" stroke-width="0.7" />
<rect x="245.97" y="131.93" width="4.75" height="4.84" fill="#bde08d" stroke="#90c45c" stroke-width="0.7" />
<rect x="245.97" y="137.48" width="4.75" height="190.17" fill="#7fa2d8" stroke="#5b81c2" stroke-width="0.7" />
<rect x="253.24" y="130.35" width="4.75" height="2.86" fill="#e2b173" stroke="#c98e48" stroke-width="0.7" />
<rect x="253.24" y="133.91" width="4.75" height="13.16" fill="#bde08d" stroke="#90c45c" stroke-width="0.7" />
<rect x="253.24" y="147.77" width="4.75" height="179.88" fill="#7fa2d8" stroke="#5b81c2" stroke-width="0.7" />
<rect x="260.51" y="130.35" width="4.75" height="0.88" fill="#e2b173" stroke="#c98e48" stroke-width="0.7" />
<rect x="260.51" y="131.93" width="4.75" height="1.28" fill="#bde08d" stroke="#90c45c" stroke-width="0.7" />
<rect x="260.51" y="133.91" width="4.75" height="193.74" fill="#7fa2d8" stroke="#5b81c2" stroke-width="0.7" />
<rect x="267.78" y="130.35" width="4.75" height="2.86" fill="#2a8bbb" stroke="#1d6f9a" stroke-width="0.7" />
<rect x="267.78" y="133.91" width="4.75" height="13.16" fill="#e2b173" stroke="#c98e48" stroke-width="0.7" />
<rect x="267.78" y="147.77" width="4.75" height="5.04" fill="#bde08d" stroke="#90c45c" stroke-width="0.7" />
<rect x="267.78" y="153.52" width="4.75" height="174.13" fill="#7fa2d8" stroke="#5b81c2" stroke-width="0.7" />
<rect x="275.05" y="130.35" width="4.75" height="0.88" fill="#2a8bbb" stroke="#1d6f9a" stroke-width="0.7" />
<rect x="275.05" y="131.93" width="4.75" height="4.84" fill="#e2b173" stroke="#c98e48" stroke-width="0.7" />
<rect x="275.05" y="137.48" width="4.75" height="5.64" fill="#bde08d" stroke="#90c45c" stroke-width="0.7" />
<rect x="275.05" y="143.81" width="4.75" height="183.84" fill="#7fa2d8" stroke="#5b81c2" stroke-width="0.7" />
<rect x="282.32" y="130.35" width="4.75" height="0.88" fill="#a385dd" stroke="#8466c4" stroke-width="0.7" />
<rect x="282.32" y="131.93" width="4.75" height="11.18" fill="#e2b173" stroke="#c98e48" stroke-width="0.7" />
<rect x="282.32" y="143.81" width="4.75" height="12.96" fill="#bde08d" stroke="#90c45c" stroke-width="0.7" />
<rect x="282.32" y="157.48" width="4.75" height="170.17" fill="#7fa2d8" stroke="#5b81c2" stroke-width="0.7" />
<rect x="289.59" y="130.35" width="4.75" height="0.88" fill="#e2b173" stroke="#c98e48" stroke-width="0.7" />
<rect x="289.59" y="131.93" width="4.75" height="1.48" fill="#bde08d" stroke="#90c45c" stroke-width="0.7" />
<rect x="289.59" y="134.11" width="4.75" height="193.54" fill="#7fa2d8" stroke="#5b81c2" stroke-width="0.7" />
<rect x="296.86" y="130.35" width="4.75" height="0.88" fill="#0c8540" stroke="#0a6e34" stroke-width="0.7" />
<rect x="296.86" y="131.93" width="4.75" height="6.82" fill="#2a8bbb" stroke="#1d6f9a" stroke-width="0.7" />
<rect x="296.86" y="139.46" width="4.75" height="1.28" fill="#404040" stroke="#2a2a2a" stroke-width="0.7" />
<rect x="296.86" y="141.44" width="4.75" height="15.34" fill="#e2b173" stroke="#c98e48" stroke-width="0.7" />
<rect x="296.86" y="157.48" width="4.75" height="3.26" fill="#bde08d" stroke="#90c45c" stroke-width="0.7" />
<rect x="296.86" y="161.44" width="4.75" height="166.21" fill="#7fa2d8" stroke="#5b81c2" stroke-width="0.7" />
<rect x="304.13" y="130.35" width="4.75" height="0.88" fill="#0c8540" stroke="#0a6e34" stroke-width="0.7" />
<rect x="304.13" y="131.93" width="4.75" height="3.06" fill="#e2646f" stroke="#c8464f" stroke-width="0.7" />
<rect x="304.13" y="135.7" width="4.75" height="5.04" fill="#e2b173" stroke="#c98e48" stroke-width="0.7" />
<rect x="304.13" y="141.44" width="4.75" height="17.32" fill="#bde08d" stroke="#90c45c" stroke-width="0.7" />
<rect x="304.13" y="159.46" width="4.75" height="168.19" fill="#7fa2d8" stroke="#5b81c2" stroke-width="0.7" />
<rect x="311.4" y="130.35" width="4.75" height="0.88" fill="#0c8540" stroke="#0a6e34" stroke-width="0.7" />
<rect x="311.4" y="131.93" width="4.75" height="3.06" fill="#2a8bbb" stroke="#1d6f9a" stroke-width="0.7" />
<rect x="311.4" y="135.7" width="4.75" height="1.08" fill="#404040" stroke="#2a2a2a" stroke-width="0.7" />
<rect x="311.4" y="137.48" width="4.75" height="29.59" fill="#e2b173" stroke="#c98e48" stroke-width="0.7" />
<rect x="311.4" y="167.77" width="4.75" height="13.16" fill="#bde08d" stroke="#90c45c" stroke-width="0.7" />
<rect x="311.4" y="181.63" width="4.75" height="146.02" fill="#7fa2d8" stroke="#5b81c2" stroke-width="0.7" />
<rect x="318.67" y="130.35" width="4.75" height="1.68" fill="#e2b173" stroke="#c98e48" stroke-width="0.7" />
<rect x="318.67" y="132.73" width="4.75" height="2.27" fill="#bde08d" stroke="#90c45c" stroke-width="0.7" />
<rect x="318.67" y="135.7" width="4.75" height="191.95" fill="#7fa2d8" stroke="#5b81c2" stroke-width="0.7" />
<rect x="325.94" y="130.35" width="4.75" height="16.72" fill="#e2b173" stroke="#c98e48" stroke-width="0.7" />
<rect x="325.94" y="147.77" width="4.75" height="5.04" fill="#bde08d" stroke="#90c45c" stroke-width="0.7" />
<rect x="325.94" y="153.52" width="4.75" height="174.13" fill="#7fa2d8" stroke="#5b81c2" stroke-width="0.7" />
<rect x="333.21" y="130.35" width="4.75" height="2.86" fill="#e2b173" stroke="#c98e48" stroke-width="0.7" />
<rect x="333.21" y="133.91" width="4.75" height="4.84" fill="#bde08d" stroke="#90c45c" stroke-width="0.7" />
<rect x="333.21" y="139.46" width="4.75" height="188.19" fill="#7fa2d8" stroke="#5b81c2" stroke-width="0.7" />
<line x1="40.6" y1="129.6" x2="40.6" y2="328.5" stroke="#231f20" stroke-width="1.2" />
<line x1="40" y1="327.9" x2="339.2" y2="327.9" stroke="#231f20" stroke-width="1.25" />
<line x1="37.4" y1="328" x2="41.1" y2="328" stroke="#231f20" stroke-width="1" />
<text x="34.7" y="330.53" font-size="8" text-anchor="end" stroke="#231f20" stroke-width="0.2" textLength="4" lengthAdjust="spacingAndGlyphs">0</text>
<line x1="37.4" y1="288.4" x2="41.1" y2="288.4" stroke="#231f20" stroke-width="1" />
<text x="34.7" y="290.93" font-size="8" text-anchor="end" stroke="#231f20" stroke-width="0.2" textLength="8" lengthAdjust="spacingAndGlyphs">20</text>
<line x1="37.4" y1="248.8" x2="41.1" y2="248.8" stroke="#231f20" stroke-width="1" />
<text x="34.7" y="251.33" font-size="8" text-anchor="end" stroke="#231f20" stroke-width="0.2" textLength="8" lengthAdjust="spacingAndGlyphs">40</text>
<line x1="37.4" y1="209.2" x2="41.1" y2="209.2" stroke="#231f20" stroke-width="1" />
<text x="34.7" y="211.73" font-size="8" text-anchor="end" stroke="#231f20" stroke-width="0.2" textLength="8" lengthAdjust="spacingAndGlyphs">60</text>
<line x1="37.4" y1="169.6" x2="41.1" y2="169.6" stroke="#231f20" stroke-width="1" />
<text x="34.7" y="172.13" font-size="8" text-anchor="end" stroke="#231f20" stroke-width="0.2" textLength="8" lengthAdjust="spacingAndGlyphs">80</text>
<line x1="37.4" y1="130" x2="41.1" y2="130" stroke="#231f20" stroke-width="1" />
<text x="34.7" y="132.53" font-size="8" text-anchor="end" stroke="#231f20" stroke-width="0.2" textLength="12" lengthAdjust="spacingAndGlyphs">100</text>
<line x1="44.23" y1="328" x2="44.23" y2="331.6" stroke="#231f20" stroke-width="1" />
<text transform="translate(46.43,335.2) rotate(-90)" x="0" y="0" font-size="6.6" text-anchor="end" stroke="#231f20" stroke-width="0.2" textLength="15.79" lengthAdjust="spacingAndGlyphs">L446</text>
<line x1="51.51" y1="328" x2="51.51" y2="331.6" stroke="#231f20" stroke-width="1" />
<text transform="translate(53.71,335.2) rotate(-90)" x="0" y="0" font-size="6.6" text-anchor="end" stroke="#231f20" stroke-width="0.2" textLength="22.1" lengthAdjust="spacingAndGlyphs">L457-2</text>
<line x1="58.8" y1="328" x2="58.8" y2="331.6" stroke="#231f20" stroke-width="1" />
<text transform="translate(61,335.2) rotate(-90)" x="0" y="0" font-size="6.6" text-anchor="end" stroke="#231f20" stroke-width="0.2" textLength="15.79" lengthAdjust="spacingAndGlyphs">L492</text>
<line x1="66.08" y1="328" x2="66.08" y2="331.6" stroke="#231f20" stroke-width="1" />
<text transform="translate(68.28,335.2) rotate(-90)" x="0" y="0" font-size="6.6" text-anchor="end" stroke="#231f20" stroke-width="0.2" textLength="22.1" lengthAdjust="spacingAndGlyphs">L520-2</text>
<line x1="73.36" y1="328" x2="73.36" y2="331.6" stroke="#231f20" stroke-width="1" />
<text transform="translate(75.56,335.2) rotate(-90)" x="0" y="0" font-size="6.6" text-anchor="end" stroke="#231f20" stroke-width="0.2" textLength="15.79" lengthAdjust="spacingAndGlyphs">L284</text>
<line x1="80.65" y1="328" x2="80.65" y2="331.6" stroke="#231f20" stroke-width="1" />
<text transform="translate(82.85,335.2) rotate(-90)" x="0" y="0" font-size="6.6" text-anchor="end" stroke="#231f20" stroke-width="0.2" textLength="15.79" lengthAdjust="spacingAndGlyphs">L487</text>
<line x1="87.94" y1="328" x2="87.94" y2="331.6" stroke="#231f20" stroke-width="1" />
<text transform="translate(90.14,335.2) rotate(-90)" x="0" y="0" font-size="6.6" text-anchor="end" stroke="#231f20" stroke-width="0.2" textLength="15.79" lengthAdjust="spacingAndGlyphs">L321</text>
<line x1="95.22" y1="328" x2="95.22" y2="331.6" stroke="#231f20" stroke-width="1" />
<text transform="translate(97.42,335.2) rotate(-90)" x="0" y="0" font-size="6.6" text-anchor="end" stroke="#231f20" stroke-width="0.2" textLength="15.79" lengthAdjust="spacingAndGlyphs">L381</text>
<line x1="102.5" y1="328" x2="102.5" y2="331.6" stroke="#231f20" stroke-width="1" />
<text transform="translate(104.7,335.2) rotate(-90)" x="0" y="0" font-size="6.6" text-anchor="end" stroke="#231f20" stroke-width="0.2" textLength="15.79" lengthAdjust="spacingAndGlyphs">L149</text>
<line x1="109.79" y1="328" x2="109.79" y2="331.6" stroke="#231f20" stroke-width="1" />
<text transform="translate(111.99,335.2) rotate(-90)" x="0" y="0" font-size="6.6" text-anchor="end" stroke="#231f20" stroke-width="0.2" textLength="15.79" lengthAdjust="spacingAndGlyphs">L435</text>
<line x1="117.07" y1="328" x2="117.07" y2="331.6" stroke="#231f20" stroke-width="1" />
<text transform="translate(119.27,335.2) rotate(-90)" x="0" y="0" font-size="6.6" text-anchor="end" stroke="#231f20" stroke-width="0.2" textLength="15.79" lengthAdjust="spacingAndGlyphs">L638</text>
<line x1="124.36" y1="328" x2="124.36" y2="331.6" stroke="#231f20" stroke-width="1" />
<text transform="translate(126.56,335.2) rotate(-90)" x="0" y="0" font-size="6.6" text-anchor="end" stroke="#231f20" stroke-width="0.2" textLength="15.79" lengthAdjust="spacingAndGlyphs">L479</text>
<line x1="131.65" y1="328" x2="131.65" y2="331.6" stroke="#231f20" stroke-width="1" />
<text transform="translate(133.84,335.2) rotate(-90)" x="0" y="0" font-size="6.6" text-anchor="end" stroke="#231f20" stroke-width="0.2" textLength="15.79" lengthAdjust="spacingAndGlyphs">L548</text>
<line x1="138.93" y1="328" x2="138.93" y2="331.6" stroke="#231f20" stroke-width="1" />
<text transform="translate(141.13,335.2) rotate(-90)" x="0" y="0" font-size="6.6" text-anchor="end" stroke="#231f20" stroke-width="0.2" textLength="15.79" lengthAdjust="spacingAndGlyphs">L610</text>
<line x1="146.22" y1="328" x2="146.22" y2="331.6" stroke="#231f20" stroke-width="1" />
<text transform="translate(148.41,335.2) rotate(-90)" x="0" y="0" font-size="6.6" text-anchor="end" stroke="#231f20" stroke-width="0.2" textLength="15.79" lengthAdjust="spacingAndGlyphs">L591</text>
<line x1="153.5" y1="328" x2="153.5" y2="331.6" stroke="#231f20" stroke-width="1" />
<text transform="translate(155.7,335.2) rotate(-90)" x="0" y="0" font-size="6.6" text-anchor="end" stroke="#231f20" stroke-width="0.2" textLength="15.79" lengthAdjust="spacingAndGlyphs">L677</text>
<line x1="160.78" y1="328" x2="160.78" y2="331.6" stroke="#231f20" stroke-width="1" />
<text transform="translate(162.98,335.2) rotate(-90)" x="0" y="0" font-size="6.6" text-anchor="end" stroke="#231f20" stroke-width="0.2" textLength="15.79" lengthAdjust="spacingAndGlyphs">L266</text>
<line x1="168.07" y1="328" x2="168.07" y2="331.6" stroke="#231f20" stroke-width="1" />
<text transform="translate(170.27,335.2) rotate(-90)" x="0" y="0" font-size="6.6" text-anchor="end" stroke="#231f20" stroke-width="0.2" textLength="22.1" lengthAdjust="spacingAndGlyphs">L457-1</text>
<line x1="175.35" y1="328" x2="175.35" y2="331.6" stroke="#231f20" stroke-width="1" />
<text transform="translate(177.55,335.2) rotate(-90)" x="0" y="0" font-size="6.6" text-anchor="end" stroke="#231f20" stroke-width="0.2" textLength="15.79" lengthAdjust="spacingAndGlyphs">L658</text>
<line x1="182.64" y1="328" x2="182.64" y2="331.6" stroke="#231f20" stroke-width="1" />
<text transform="translate(184.84,335.2) rotate(-90)" x="0" y="0" font-size="6.6" text-anchor="end" stroke="#231f20" stroke-width="0.2" textLength="15.79" lengthAdjust="spacingAndGlyphs">L520</text>
<line x1="189.92" y1="328" x2="189.92" y2="331.6" stroke="#231f20" stroke-width="1" />
<text transform="translate(192.12,335.2) rotate(-90)" x="0" y="0" font-size="6.6" text-anchor="end" stroke="#231f20" stroke-width="0.2" textLength="15.79" lengthAdjust="spacingAndGlyphs">L472</text>
<line x1="204.72" y1="328" x2="204.72" y2="331.6" stroke="#231f20" stroke-width="1" />
<text transform="translate(206.92,335.2) rotate(-90)" x="0" y="0" font-size="6.6" text-anchor="end" stroke="#231f20" stroke-width="0.2" textLength="15.79" lengthAdjust="spacingAndGlyphs">N526</text>
<line x1="212" y1="328" x2="212" y2="331.6" stroke="#231f20" stroke-width="1" />
<text transform="translate(214.19,335.2) rotate(-90)" x="0" y="0" font-size="6.6" text-anchor="end" stroke="#231f20" stroke-width="0.2" textLength="15.79" lengthAdjust="spacingAndGlyphs">N470</text>
<line x1="219.26" y1="328" x2="219.26" y2="331.6" stroke="#231f20" stroke-width="1" />
<text transform="translate(221.46,335.2) rotate(-90)" x="0" y="0" font-size="6.6" text-anchor="end" stroke="#231f20" stroke-width="0.2" textLength="15.79" lengthAdjust="spacingAndGlyphs">N407</text>
<line x1="226.53" y1="328" x2="226.53" y2="331.6" stroke="#231f20" stroke-width="1" />
<text transform="translate(228.73,335.2) rotate(-90)" x="0" y="0" font-size="6.6" text-anchor="end" stroke="#231f20" stroke-width="0.2" textLength="15.79" lengthAdjust="spacingAndGlyphs">N292</text>
<line x1="233.8" y1="328" x2="233.8" y2="331.6" stroke="#231f20" stroke-width="1" />
<text transform="translate(236,335.2) rotate(-90)" x="0" y="0" font-size="6.6" text-anchor="end" stroke="#231f20" stroke-width="0.2" textLength="15.79" lengthAdjust="spacingAndGlyphs">N168</text>
<line x1="241.07" y1="328" x2="241.07" y2="331.6" stroke="#231f20" stroke-width="1" />
<text transform="translate(243.27,335.2) rotate(-90)" x="0" y="0" font-size="6.6" text-anchor="end" stroke="#231f20" stroke-width="0.2" textLength="15.79" lengthAdjust="spacingAndGlyphs">N325</text>
<line x1="248.34" y1="328" x2="248.34" y2="331.6" stroke="#231f20" stroke-width="1" />
<text transform="translate(250.54,335.2) rotate(-90)" x="0" y="0" font-size="6.6" text-anchor="end" stroke="#231f20" stroke-width="0.2" textLength="15.79" lengthAdjust="spacingAndGlyphs">N030</text>
<line x1="255.61" y1="328" x2="255.61" y2="331.6" stroke="#231f20" stroke-width="1" />
<text transform="translate(257.81,335.2) rotate(-90)" x="0" y="0" font-size="6.6" text-anchor="end" stroke="#231f20" stroke-width="0.2" textLength="15.79" lengthAdjust="spacingAndGlyphs">N556</text>
<line x1="262.88" y1="328" x2="262.88" y2="331.6" stroke="#231f20" stroke-width="1" />
<text transform="translate(265.08,335.2) rotate(-90)" x="0" y="0" font-size="6.6" text-anchor="end" stroke="#231f20" stroke-width="0.2" textLength="15.79" lengthAdjust="spacingAndGlyphs">N170</text>
<line x1="270.16" y1="328" x2="270.16" y2="331.6" stroke="#231f20" stroke-width="1" />
<text transform="translate(272.36,335.2) rotate(-90)" x="0" y="0" font-size="6.6" text-anchor="end" stroke="#231f20" stroke-width="0.2" textLength="15.79" lengthAdjust="spacingAndGlyphs">N386</text>
<line x1="277.43" y1="328" x2="277.43" y2="331.6" stroke="#231f20" stroke-width="1" />
<text transform="translate(279.62,335.2) rotate(-90)" x="0" y="0" font-size="6.6" text-anchor="end" stroke="#231f20" stroke-width="0.2" textLength="15.79" lengthAdjust="spacingAndGlyphs">N575</text>
<line x1="284.7" y1="328" x2="284.7" y2="331.6" stroke="#231f20" stroke-width="1" />
<text transform="translate(286.9,335.2) rotate(-90)" x="0" y="0" font-size="6.6" text-anchor="end" stroke="#231f20" stroke-width="0.2" textLength="15.79" lengthAdjust="spacingAndGlyphs">N442</text>
<line x1="291.97" y1="328" x2="291.97" y2="331.6" stroke="#231f20" stroke-width="1" />
<text transform="translate(294.17,335.2) rotate(-90)" x="0" y="0" font-size="6.6" text-anchor="end" stroke="#231f20" stroke-width="0.2" textLength="15.79" lengthAdjust="spacingAndGlyphs">N562</text>
<line x1="299.24" y1="328" x2="299.24" y2="331.6" stroke="#231f20" stroke-width="1" />
<text transform="translate(301.44,335.2) rotate(-90)" x="0" y="0" font-size="6.6" text-anchor="end" stroke="#231f20" stroke-width="0.2" textLength="15.79" lengthAdjust="spacingAndGlyphs">N563</text>
<line x1="306.5" y1="328" x2="306.5" y2="331.6" stroke="#231f20" stroke-width="1" />
<text transform="translate(308.7,335.2) rotate(-90)" x="0" y="0" font-size="6.6" text-anchor="end" stroke="#231f20" stroke-width="0.2" textLength="15.79" lengthAdjust="spacingAndGlyphs">N531</text>
<line x1="313.78" y1="328" x2="313.78" y2="331.6" stroke="#231f20" stroke-width="1" />
<text transform="translate(315.98,335.2) rotate(-90)" x="0" y="0" font-size="6.6" text-anchor="end" stroke="#231f20" stroke-width="0.2" textLength="15.79" lengthAdjust="spacingAndGlyphs">N266</text>
<line x1="321.05" y1="328" x2="321.05" y2="331.6" stroke="#231f20" stroke-width="1" />
<text transform="translate(323.25,335.2) rotate(-90)" x="0" y="0" font-size="6.6" text-anchor="end" stroke="#231f20" stroke-width="0.2" textLength="15.79" lengthAdjust="spacingAndGlyphs">N559</text>
<line x1="328.31" y1="328" x2="328.31" y2="331.6" stroke="#231f20" stroke-width="1" />
<text transform="translate(330.51,335.2) rotate(-90)" x="0" y="0" font-size="6.6" text-anchor="end" stroke="#231f20" stroke-width="0.2" textLength="15.79" lengthAdjust="spacingAndGlyphs">N067</text>
<line x1="335.59" y1="328" x2="335.59" y2="331.6" stroke="#231f20" stroke-width="1" />
<text transform="translate(337.79,335.2) rotate(-90)" x="0" y="0" font-size="6.6" text-anchor="end" stroke="#231f20" stroke-width="0.2" textLength="15.79" lengthAdjust="spacingAndGlyphs">N458</text>
<text transform="translate(17.7,228.9) rotate(-90)" x="0" y="0" font-size="10.4" text-anchor="middle" stroke="#231f20" stroke-width="0.2" textLength="36.4" lengthAdjust="spacingAndGlyphs">% of nuclei</text>
<text x="171.8" y="369.6" font-size="9.6" stroke="#231f20" stroke-width="0.2" textLength="35.4" lengthAdjust="spacingAndGlyphs">Patient no.</text>
<line x1="347.8" y1="142.4" x2="355.8" y2="142.4" stroke="#0c8540" stroke-width="1.5" />
<text x="358.2" y="144.45" font-size="6" fill="#1d8a3c" stroke="#1d8a3c" stroke-width="0.05" textLength="17.8" lengthAdjust="spacingAndGlyphs">>4O4G</text>
<line x1="347.8" y1="150.08" x2="355.8" y2="150.08" stroke="#1f6f9f" stroke-width="1.5" />
<text x="358.2" y="152.13" font-size="6" fill="#1f5f8f" stroke="#1f5f8f" stroke-width="0.05" textLength="14.5" lengthAdjust="spacingAndGlyphs">4O4G</text>
<line x1="347.8" y1="157.76" x2="355.8" y2="157.76" stroke="#1a1a1a" stroke-width="1.5" />
<text x="358.2" y="159.81" font-size="6" fill="#2b2c5e" stroke="#2b2c5e" stroke-width="0.05" textLength="14.5" lengthAdjust="spacingAndGlyphs">4O3G</text>
<line x1="347.8" y1="165.44" x2="355.8" y2="165.44" stroke="#8a6ad0" stroke-width="1.5" />
<text x="358.2" y="167.49" font-size="6" fill="#7b56c8" stroke="#7b56c8" stroke-width="0.05" textLength="14.5" lengthAdjust="spacingAndGlyphs">4O2G</text>
<line x1="347.8" y1="173.12" x2="355.8" y2="173.12" stroke="#c8c8c8" stroke-width="1.5" />
<text x="358.2" y="175.17" font-size="6" fill="#c04cc0" stroke="#c04cc0" stroke-width="0.05" textLength="14.5" lengthAdjust="spacingAndGlyphs">3O5G</text>
<line x1="347.8" y1="180.8" x2="355.8" y2="180.8" stroke="#d4434e" stroke-width="1.5" />
<text x="358.2" y="182.85" font-size="6" fill="#c8323c" stroke="#c8323c" stroke-width="0.05" textLength="14.5" lengthAdjust="spacingAndGlyphs">3O4G</text>
<line x1="347.8" y1="188.48" x2="355.8" y2="188.48" stroke="#d39a52" stroke-width="1.5" />
<text x="358.2" y="190.53" font-size="6" fill="#c98a3e" stroke="#c98a3e" stroke-width="0.05" textLength="14.5" lengthAdjust="spacingAndGlyphs">3O3G</text>
<line x1="347.8" y1="196.16" x2="355.8" y2="196.16" stroke="#8cc65a" stroke-width="1.5" />
<text x="358.2" y="198.21" font-size="6" fill="#6aaa3c" stroke="#6aaa3c" stroke-width="0.05" textLength="14.5" lengthAdjust="spacingAndGlyphs">3O2G</text>
<line x1="347.8" y1="203.84" x2="355.8" y2="203.84" stroke="#5f86c6" stroke-width="1.5" />
<text x="358.2" y="205.89" font-size="6" fill="#3d6fb8" stroke="#3d6fb8" stroke-width="0.05" textLength="14.5" lengthAdjust="spacingAndGlyphs">2O2G</text>
<text x="441.1" y="134.8" font-size="9.7" stroke="#231f20" stroke-width="0.2" textLength="57.5" lengthAdjust="spacingAndGlyphs">7q21.3 gain%</text>
<rect x="438.4" y="197.25" width="24.8" height="34.75" fill="#e99b8f" stroke="#d9776b" stroke-width="0.7" />
<rect x="476.5" y="219.5" width="25.2" height="12.5" fill="#95a3cf" stroke="#7a8cc0" stroke-width="0.7" />
<line x1="431.9" y1="149.3" x2="431.9" y2="232.5" stroke="#231f20" stroke-width="1.2" />
<line x1="431" y1="232" x2="508.5" y2="232" stroke="#231f20" stroke-width="1.2" />
<line x1="428.6" y1="232" x2="431.9" y2="232" stroke="#231f20" stroke-width="1" />
<text x="425.3" y="234.53" font-size="8" text-anchor="end" stroke="#231f20" stroke-width="0.2" textLength="3.95" lengthAdjust="spacingAndGlyphs">0</text>
<line x1="428.6" y1="215.45" x2="431.9" y2="215.45" stroke="#231f20" stroke-width="1" />
<text x="425.3" y="217.98" font-size="8" text-anchor="end" stroke="#231f20" stroke-width="0.2" textLength="7.9" lengthAdjust="spacingAndGlyphs">20</text>
<line x1="428.6" y1="198.9" x2="431.9" y2="198.9" stroke="#231f20" stroke-width="1" />
<text x="425.3" y="201.43" font-size="8" text-anchor="end" stroke="#231f20" stroke-width="0.2" textLength="7.9" lengthAdjust="spacingAndGlyphs">40</text>
<line x1="428.6" y1="182.35" x2="431.9" y2="182.35" stroke="#231f20" stroke-width="1" />
<text x="425.3" y="184.88" font-size="8" text-anchor="end" stroke="#231f20" stroke-width="0.2" textLength="7.9" lengthAdjust="spacingAndGlyphs">60</text>
<line x1="428.6" y1="165.8" x2="431.9" y2="165.8" stroke="#231f20" stroke-width="1" />
<text x="425.3" y="168.33" font-size="8" text-anchor="end" stroke="#231f20" stroke-width="0.2" textLength="7.9" lengthAdjust="spacingAndGlyphs">80</text>
<line x1="428.6" y1="149.25" x2="431.9" y2="149.25" stroke="#231f20" stroke-width="1" />
<text x="425.3" y="151.78" font-size="8" text-anchor="end" stroke="#231f20" stroke-width="0.2" textLength="11.85" lengthAdjust="spacingAndGlyphs">100</text>
<line x1="450.8" y1="232" x2="450.8" y2="235.2" stroke="#231f20" stroke-width="1" />
<line x1="488.5" y1="232" x2="488.5" y2="235.2" stroke="#231f20" stroke-width="1" />
<text transform="translate(407.3,190.6) rotate(-90)" x="0" y="0" font-size="9.8" text-anchor="middle" stroke="#231f20" stroke-width="0.2" textLength="47.4" lengthAdjust="spacingAndGlyphs">7q21.3 gain%</text>
<circle cx="446.92" cy="162.77" r="2.15" fill="#c8102e" />
<circle cx="454.62" cy="162.77" r="2.15" fill="#c8102e" />
<circle cx="450.77" cy="173.38" r="2.15" fill="#c8102e" />
<circle cx="450.77" cy="186.15" r="2.15" fill="#c8102e" />
<circle cx="446.92" cy="188.46" r="2.15" fill="#c8102e" />
<circle cx="444.15" cy="190.77" r="2.15" fill="#c8102e" />
<circle cx="454.62" cy="189.54" r="2.15" fill="#c8102e" />
<circle cx="448.77" cy="193.85" r="2.15" fill="#c8102e" />
<circle cx="453.08" cy="194.62" r="2.15" fill="#c8102e" />
<circle cx="457.38" cy="193.85" r="2.15" fill="#c8102e" />
<circle cx="460.46" cy="198.92" r="2.15" fill="#c8102e" />
<circle cx="441.08" cy="201.54" r="2.15" fill="#c8102e" />
<circle cx="447.69" cy="203.85" r="2.15" fill="#c8102e" />
<circle cx="453.85" cy="202.31" r="2.15" fill="#c8102e" />
<circle cx="441.08" cy="208.77" r="2.15" fill="#c8102e" />
<circle cx="447.69" cy="210.77" r="2.15" fill="#c8102e" />
<circle cx="460.46" cy="208.77" r="2.15" fill="#c8102e" />
<circle cx="454.31" cy="214.62" r="2.15" fill="#c8102e" />
<circle cx="443.54" cy="216.46" r="2.15" fill="#c8102e" />
<circle cx="450.77" cy="223.08" r="2.15" fill="#c8102e" />
<circle cx="458.15" cy="222" r="2.15" fill="#c8102e" />
<circle cx="488.5" cy="185.1" r="2.15" fill="#1a5a96" />
<circle cx="488.5" cy="196.2" r="2.15" fill="#1a5a96" />
<circle cx="492.3" cy="206.5" r="2.15" fill="#1a5a96" />
<circle cx="484.9" cy="210.1" r="2.15" fill="#1a5a96" />
<circle cx="484.8" cy="217.5" r="2.15" fill="#1a5a96" />
<circle cx="481.8" cy="218.9" r="2.15" fill="#1a5a96" />
<circle cx="492.5" cy="218.2" r="2.15" fill="#1a5a96" />
<circle cx="495.2" cy="220.2" r="2.15" fill="#1a5a96" />
<circle cx="479.4" cy="223.9" r="2.15" fill="#1a5a96" />
<circle cx="481.4" cy="227.3" r="2.15" fill="#1a5a96" />
<circle cx="484.1" cy="228" r="2.15" fill="#1a5a96" />
<circle cx="486.8" cy="229.3" r="2.15" fill="#1a5a96" />
<circle cx="490.2" cy="229" r="2.15" fill="#1a5a96" />
<circle cx="493.2" cy="227.3" r="2.15" fill="#1a5a96" />
<circle cx="496.6" cy="225.6" r="2.15" fill="#1a5a96" />
<circle cx="497.9" cy="224.6" r="2.15" fill="#1a5a96" />
<circle cx="488.5" cy="230.3" r="2.15" fill="#1a5a96" />
<circle cx="483" cy="222" r="2.15" fill="#1a5a96" />
<circle cx="491" cy="222.5" r="2.15" fill="#1a5a96" />
<line x1="450.8" y1="180.5" x2="450.8" y2="214.6" stroke="#231f20" stroke-width="1" />
<line x1="444.2" y1="180.5" x2="457.4" y2="180.5" stroke="#231f20" stroke-width="1" />
<line x1="444.2" y1="214.6" x2="457.4" y2="214.6" stroke="#231f20" stroke-width="1" />
<line x1="488.5" y1="207.2" x2="488.5" y2="232" stroke="#231f20" stroke-width="1" />
<line x1="482.3" y1="207.2" x2="494.6" y2="207.2" stroke="#231f20" stroke-width="1" />
<polyline points="450.8,153.8 450.8,149.4 488.5,149.4 488.5,176.6" fill="none" stroke="#231f20" stroke-width="1.0"/>
<circle cx="464.3" cy="145.4" r="1" fill="#231f20" />
<circle cx="468" cy="145.4" r="1" fill="#231f20" />
<circle cx="471.6" cy="145.4" r="1" fill="#231f20" />
<circle cx="475.1" cy="145.4" r="1" fill="#231f20" />
<text x="450.5" y="243.9" font-size="8" text-anchor="middle" stroke="#231f20" stroke-width="0.2" textLength="27.5" lengthAdjust="spacingAndGlyphs">MF-LCT</text>
<text x="450.5" y="253.2" font-size="8" text-anchor="middle" stroke="#231f20" stroke-width="0.2" textLength="27.5" lengthAdjust="spacingAndGlyphs">(n = 21)</text>
<text x="488.5" y="243.9" font-size="8" text-anchor="middle" stroke="#231f20" stroke-width="0.2" textLength="33.5" lengthAdjust="spacingAndGlyphs">MF-NLCT</text>
<text x="488.5" y="253.2" font-size="8" text-anchor="middle" stroke="#231f20" stroke-width="0.2" textLength="27.5" lengthAdjust="spacingAndGlyphs">(n = 19)</text>
<text x="374.6" y="294.6" font-size="10.2" fill="#000" stroke="#000" stroke-width="0.55" font-weight="bold" textLength="7.7" lengthAdjust="spacingAndGlyphs">C</text>
<text x="409.5" y="295.1" font-size="10" stroke="#231f20" stroke-width="0.2" textLength="90.9" lengthAdjust="spacingAndGlyphs">Spearman correlation</text>
<text x="424.3" y="306.3" font-size="7" stroke="#231f20" stroke-width="0.2" textLength="21.2" lengthAdjust="spacingAndGlyphs">n = 39</text>
<text x="424.3" y="315.8" font-size="7" stroke="#231f20" stroke-width="0.2" textLength="29.6" lengthAdjust="spacingAndGlyphs">r = 0.667</text>
<circle cx="410.6" cy="322.2" r="0.85" fill="#231f20" />
<circle cx="413.9" cy="322.2" r="0.85" fill="#231f20" />
<circle cx="417.2" cy="322.2" r="0.85" fill="#231f20" />
<circle cx="420.4" cy="322.2" r="0.85" fill="#231f20" />
<text x="424.3" y="323.9" font-size="7" stroke="#231f20" stroke-width="0.2" textLength="27.1" lengthAdjust="spacingAndGlyphs"><tspan font-style="italic">p</tspan>&lt;.0001</text>
<line x1="400.6" y1="316.2" x2="400.6" y2="389" stroke="#231f20" stroke-width="1.2" />
<line x1="400.1" y1="388.5" x2="509.2" y2="388.5" stroke="#231f20" stroke-width="1.2" />
<line x1="397" y1="388.5" x2="400.6" y2="388.5" stroke="#231f20" stroke-width="1" />
<text x="394.8" y="391.13" font-size="8" text-anchor="end" stroke="#231f20" stroke-width="0.2" textLength="4.2" lengthAdjust="spacingAndGlyphs">0</text>
<line x1="397" y1="374.1" x2="400.6" y2="374.1" stroke="#231f20" stroke-width="1" />
<text x="394.8" y="376.73" font-size="8" text-anchor="end" stroke="#231f20" stroke-width="0.2" textLength="8.4" lengthAdjust="spacingAndGlyphs">20</text>
<line x1="397" y1="359.7" x2="400.6" y2="359.7" stroke="#231f20" stroke-width="1" />
<text x="394.8" y="362.33" font-size="8" text-anchor="end" stroke="#231f20" stroke-width="0.2" textLength="8.4" lengthAdjust="spacingAndGlyphs">40</text>
<line x1="397" y1="345.3" x2="400.6" y2="345.3" stroke="#231f20" stroke-width="1" />
<text x="394.8" y="347.93" font-size="8" text-anchor="end" stroke="#231f20" stroke-width="0.2" textLength="8.4" lengthAdjust="spacingAndGlyphs">60</text>
<line x1="397" y1="330.9" x2="400.6" y2="330.9" stroke="#231f20" stroke-width="1" />
<text x="394.8" y="333.53" font-size="8" text-anchor="end" stroke="#231f20" stroke-width="0.2" textLength="8.4" lengthAdjust="spacingAndGlyphs">80</text>
<line x1="397" y1="316.5" x2="400.6" y2="316.5" stroke="#231f20" stroke-width="1" />
<text x="394.8" y="319.13" font-size="8" text-anchor="end" stroke="#231f20" stroke-width="0.2" textLength="12.6" lengthAdjust="spacingAndGlyphs">100</text>
<line x1="400.5" y1="388.5" x2="400.5" y2="391.8" stroke="#231f20" stroke-width="1" />
<text transform="translate(403.25,395.4) rotate(-90)" x="0" y="0" font-size="7.9" text-anchor="end" stroke="#231f20" stroke-width="0.2" textLength="4.35" lengthAdjust="spacingAndGlyphs">0</text>
<line x1="411.33" y1="388.5" x2="411.33" y2="391.8" stroke="#231f20" stroke-width="1" />
<text transform="translate(414.08,395.4) rotate(-90)" x="0" y="0" font-size="7.9" text-anchor="end" stroke="#231f20" stroke-width="0.2" textLength="8.7" lengthAdjust="spacingAndGlyphs">50</text>
<line x1="422.16" y1="388.5" x2="422.16" y2="391.8" stroke="#231f20" stroke-width="1" />
<text transform="translate(424.91,395.4) rotate(-90)" x="0" y="0" font-size="7.9" text-anchor="end" stroke="#231f20" stroke-width="0.2" textLength="13.05" lengthAdjust="spacingAndGlyphs">100</text>
<line x1="432.99" y1="388.5" x2="432.99" y2="391.8" stroke="#231f20" stroke-width="1" />
<text transform="translate(435.74,395.4) rotate(-90)" x="0" y="0" font-size="7.9" text-anchor="end" stroke="#231f20" stroke-width="0.2" textLength="13.05" lengthAdjust="spacingAndGlyphs">150</text>
<line x1="443.82" y1="388.5" x2="443.82" y2="391.8" stroke="#231f20" stroke-width="1" />
<text transform="translate(446.57,395.4) rotate(-90)" x="0" y="0" font-size="7.9" text-anchor="end" stroke="#231f20" stroke-width="0.2" textLength="13.05" lengthAdjust="spacingAndGlyphs">200</text>
<line x1="454.65" y1="388.5" x2="454.65" y2="391.8" stroke="#231f20" stroke-width="1" />
<text transform="translate(457.4,395.4) rotate(-90)" x="0" y="0" font-size="7.9" text-anchor="end" stroke="#231f20" stroke-width="0.2" textLength="13.05" lengthAdjust="spacingAndGlyphs">250</text>
<line x1="465.48" y1="388.5" x2="465.48" y2="391.8" stroke="#231f20" stroke-width="1" />
<text transform="translate(468.23,395.4) rotate(-90)" x="0" y="0" font-size="7.9" text-anchor="end" stroke="#231f20" stroke-width="0.2" textLength="13.05" lengthAdjust="spacingAndGlyphs">300</text>
<line x1="476.31" y1="388.5" x2="476.31" y2="391.8" stroke="#231f20" stroke-width="1" />
<text transform="translate(479.06,395.4) rotate(-90)" x="0" y="0" font-size="7.9" text-anchor="end" stroke="#231f20" stroke-width="0.2" textLength="13.05" lengthAdjust="spacingAndGlyphs">350</text>
<line x1="487.14" y1="388.5" x2="487.14" y2="391.8" stroke="#231f20" stroke-width="1" />
<text transform="translate(489.89,395.4) rotate(-90)" x="0" y="0" font-size="7.9" text-anchor="end" stroke="#231f20" stroke-width="0.2" textLength="13.05" lengthAdjust="spacingAndGlyphs">400</text>
<line x1="497.97" y1="388.5" x2="497.97" y2="391.8" stroke="#231f20" stroke-width="1" />
<text transform="translate(500.72,395.4) rotate(-90)" x="0" y="0" font-size="7.9" text-anchor="end" stroke="#231f20" stroke-width="0.2" textLength="13.05" lengthAdjust="spacingAndGlyphs">450</text>
<line x1="508.8" y1="388.5" x2="508.8" y2="391.8" stroke="#231f20" stroke-width="1" />
<text transform="translate(511.55,395.4) rotate(-90)" x="0" y="0" font-size="7.9" text-anchor="end" stroke="#231f20" stroke-width="0.2" textLength="13.05" lengthAdjust="spacingAndGlyphs">500</text>
<text transform="translate(376.3,352.6) rotate(-90)" x="0" y="0" font-size="9.8" text-anchor="middle" stroke="#231f20" stroke-width="0.2" textLength="46.9" lengthAdjust="spacingAndGlyphs">7q21.3 gain%</text>
<text stroke="#231f20" stroke-width="0.2" x="415.8" y="420.7" font-size="8.6" textLength="78.8" lengthAdjust="spacingAndGlyphs"><tspan font-style="italic">PEG10</tspan> mRNA (qRT-PCR)</text>
<line x1="402" y1="374.8" x2="506.8" y2="335.3" stroke="#231f20" stroke-width="1.35" />
<circle cx="487" cy="328" r="1.8" fill="#c8102e" />
<circle cx="507.8" cy="328" r="1.8" fill="#c8102e" />
<circle cx="436.2" cy="337.7" r="1.8" fill="#c8102e" />
<circle cx="403.3" cy="348.5" r="1.8" fill="#c8102e" />
<circle cx="412.3" cy="348.8" r="1.8" fill="#c8102e" />
<circle cx="403.1" cy="352.7" r="1.8" fill="#c8102e" />
<circle cx="411.4" cy="351.9" r="1.8" fill="#c8102e" />
<circle cx="431.8" cy="350.6" r="1.8" fill="#c8102e" />
<circle cx="414.1" cy="356.2" r="1.8" fill="#c8102e" />
<circle cx="413.3" cy="357.7" r="1.8" fill="#c8102e" />
<circle cx="414.8" cy="362.3" r="1.8" fill="#c8102e" />
<circle cx="463.4" cy="355.5" r="1.8" fill="#c8102e" />
<circle cx="493.9" cy="355.5" r="1.8" fill="#c8102e" />
<circle cx="463.4" cy="362.7" r="1.8" fill="#c8102e" />
<circle cx="474.3" cy="359.7" r="1.8" fill="#c8102e" />
<circle cx="439.2" cy="364.3" r="1.8" fill="#c8102e" />
<circle cx="428.7" cy="367.1" r="1.8" fill="#c8102e" />
<circle cx="417.8" cy="368.6" r="1.8" fill="#c8102e" />
<circle cx="451.9" cy="370" r="1.8" fill="#c8102e" />
<circle cx="404.3" cy="370" r="1.8" fill="#c8102e" />
<circle cx="412.5" cy="372.9" r="1.8" fill="#c8102e" />
<circle cx="401.5" cy="374.6" r="1.8" fill="#c8102e" />
<circle cx="401.4" cy="377.7" r="1.8" fill="#c8102e" />
<circle cx="406.4" cy="377.3" r="1.8" fill="#c8102e" />
<circle cx="404.8" cy="379.2" r="1.8" fill="#c8102e" />
<circle cx="403.7" cy="381.5" r="1.8" fill="#c8102e" />
<circle cx="403.3" cy="383.5" r="1.8" fill="#c8102e" />
<circle cx="407.9" cy="385.2" r="1.8" fill="#c8102e" />
<circle cx="402.2" cy="386.2" r="1.8" fill="#c8102e" />
<circle cx="401" cy="386.9" r="1.8" fill="#c8102e" />
<circle cx="403.7" cy="386.2" r="1.8" fill="#c8102e" />
<circle cx="402.5" cy="387.7" r="1.8" fill="#c8102e" />
<circle cx="402" cy="380" r="1.8" fill="#c8102e" />
<circle cx="404.1" cy="387.5" r="1.8" fill="#c8102e" />
<text x="7.7" y="391.5" font-size="10" fill="#000" stroke="#000" stroke-width="0.55" font-weight="bold" textLength="7.7" lengthAdjust="spacingAndGlyphs">D</text>
<line x1="54.9" y1="397.05" x2="65.1" y2="397.05" stroke="#c8102e" stroke-width="1.2" />
<circle cx="60.2" cy="397.05" r="1.75" fill="#c8102e" />
<text x="68.3" y="399.45" font-size="7" stroke="#231f20" stroke-width="0.2" textLength="68.5" lengthAdjust="spacingAndGlyphs">Pt.266 7q21.3 gain%</text>
<line x1="54.9" y1="405.2" x2="65.1" y2="405.2" stroke="#c8102e" stroke-width="1.2" />
<rect x="58.1" y="403.15" width="4.2" height="4.1" fill="#c8102e" />
<text x="68.3" y="407.6" font-size="7" stroke="#231f20" stroke-width="0.2" textLength="69.5" lengthAdjust="spacingAndGlyphs">Pt.266 PEG10 mRNA</text>
<line x1="54.9" y1="413.4" x2="65.1" y2="413.4" stroke="#1b5a94" stroke-width="1.2" />
<circle cx="60.2" cy="413.4" r="1.75" fill="#1b5a94" />
<text x="68.3" y="415.8" font-size="7" stroke="#231f20" stroke-width="0.2" textLength="68.5" lengthAdjust="spacingAndGlyphs">Pt.520 7q21.3 gain%</text>
<line x1="54.9" y1="421.4" x2="65.1" y2="421.4" stroke="#1b5a94" stroke-width="1.2" />
<rect x="58.1" y="419.35" width="4.2" height="4.1" fill="#1b5a94" />
<text x="68.3" y="423.8" font-size="7" stroke="#231f20" stroke-width="0.2" textLength="69.5" lengthAdjust="spacingAndGlyphs">Pt.520 PEG10 mRNA</text>
<line x1="49.3" y1="425" x2="49.3" y2="501" stroke="#231f20" stroke-width="1.2" />
<line x1="145.4" y1="425" x2="145.4" y2="501" stroke="#231f20" stroke-width="1.2" />
<line x1="48.8" y1="500.5" x2="145.9" y2="500.5" stroke="#231f20" stroke-width="1.2" />
<line x1="46" y1="500.5" x2="49.3" y2="500.5" stroke="#231f20" stroke-width="1" />
<line x1="145.4" y1="500.5" x2="148.4" y2="500.5" stroke="#231f20" stroke-width="1" />
<text x="43.4" y="503.33" font-size="8" text-anchor="end" stroke="#231f20" stroke-width="0.2" textLength="4.3" lengthAdjust="spacingAndGlyphs">0</text>
<text x="151.6" y="503.33" font-size="8" stroke="#231f20" stroke-width="0.2" textLength="4.3" lengthAdjust="spacingAndGlyphs">0</text>
<line x1="46" y1="481.75" x2="49.3" y2="481.75" stroke="#231f20" stroke-width="1" />
<line x1="145.4" y1="481.75" x2="148.4" y2="481.75" stroke="#231f20" stroke-width="1" />
<text x="43.4" y="484.58" font-size="8" text-anchor="end" stroke="#231f20" stroke-width="0.2" textLength="8.6" lengthAdjust="spacingAndGlyphs">20</text>
<text x="151.6" y="484.58" font-size="8" stroke="#231f20" stroke-width="0.2" textLength="8.6" lengthAdjust="spacingAndGlyphs">20</text>
<line x1="46" y1="463" x2="49.3" y2="463" stroke="#231f20" stroke-width="1" />
<line x1="145.4" y1="463" x2="148.4" y2="463" stroke="#231f20" stroke-width="1" />
<text x="43.4" y="465.83" font-size="8" text-anchor="end" stroke="#231f20" stroke-width="0.2" textLength="8.6" lengthAdjust="spacingAndGlyphs">40</text>
<text x="151.6" y="465.83" font-size="8" stroke="#231f20" stroke-width="0.2" textLength="8.6" lengthAdjust="spacingAndGlyphs">40</text>
<line x1="46" y1="444.25" x2="49.3" y2="444.25" stroke="#231f20" stroke-width="1" />
<line x1="145.4" y1="444.25" x2="148.4" y2="444.25" stroke="#231f20" stroke-width="1" />
<text x="43.4" y="447.08" font-size="8" text-anchor="end" stroke="#231f20" stroke-width="0.2" textLength="8.6" lengthAdjust="spacingAndGlyphs">60</text>
<text x="151.6" y="447.08" font-size="8" stroke="#231f20" stroke-width="0.2" textLength="8.6" lengthAdjust="spacingAndGlyphs">60</text>
<line x1="46" y1="425.5" x2="49.3" y2="425.5" stroke="#231f20" stroke-width="1" />
<line x1="145.4" y1="425.5" x2="148.4" y2="425.5" stroke="#231f20" stroke-width="1" />
<text x="43.4" y="428.33" font-size="8" text-anchor="end" stroke="#231f20" stroke-width="0.2" textLength="8.6" lengthAdjust="spacingAndGlyphs">80</text>
<text x="151.6" y="428.33" font-size="8" stroke="#231f20" stroke-width="0.2" textLength="8.6" lengthAdjust="spacingAndGlyphs">80</text>
<line x1="73.3" y1="500.5" x2="73.3" y2="503.8" stroke="#231f20" stroke-width="1" />
<line x1="121.3" y1="500.5" x2="121.3" y2="503.8" stroke="#231f20" stroke-width="1" />
<line x1="73.3" y1="489.25" x2="121.3" y2="479.88" stroke="#1b5a94" stroke-width="1.45" />
<circle cx="73.3" cy="489.25" r="2.3" fill="#1b5a94" />
<circle cx="121.3" cy="479.88" r="2.3" fill="#1b5a94" />
<line x1="73.3" y1="487.38" x2="121.3" y2="448.47" stroke="#1b5a94" stroke-width="1.45" />
<rect x="71" y="485.07" width="4.6" height="4.6" fill="#1b5a94" />
<rect x="119" y="446.17" width="4.6" height="4.6" fill="#1b5a94" />
<line x1="73.3" y1="475.75" x2="121.3" y2="465.81" stroke="#c8102e" stroke-width="1.45" />
<circle cx="73.3" cy="475.75" r="2.3" fill="#c8102e" />
<circle cx="121.3" cy="465.81" r="2.3" fill="#c8102e" />
<line x1="73.3" y1="485.5" x2="121.3" y2="439.19" stroke="#c8102e" stroke-width="1.45" />
<rect x="71" y="483.2" width="4.6" height="4.6" fill="#c8102e" />
<rect x="119" y="436.89" width="4.6" height="4.6" fill="#c8102e" />
<text transform="translate(16.5,462.5) rotate(-90)" x="0" y="0" font-size="9.6" text-anchor="middle" stroke="#231f20" stroke-width="0.2" textLength="72.7" lengthAdjust="spacingAndGlyphs">Relative PEG10 mRNA</text>
<text transform="translate(28.7,463) rotate(-90)" x="0" y="0" font-size="9.6" text-anchor="middle" stroke="#231f20" stroke-width="0.2" textLength="35.6" lengthAdjust="spacingAndGlyphs">expression</text>
<text transform="translate(166,463) rotate(90)" x="0" y="0" font-size="9.6" text-anchor="middle" stroke="#231f20" stroke-width="0.2" textLength="46.3" lengthAdjust="spacingAndGlyphs">7q21.3 gain%</text>
<text x="73.5" y="513.8" font-size="8.6" text-anchor="middle" stroke="#231f20" stroke-width="0.2" textLength="15.6" lengthAdjust="spacingAndGlyphs">First</text>
<text x="73.5" y="523.3" font-size="8.6" text-anchor="middle" stroke="#231f20" stroke-width="0.2" textLength="19.5" lengthAdjust="spacingAndGlyphs">biopy</text>
<text x="121.5" y="513.8" font-size="8.6" text-anchor="middle" stroke="#231f20" stroke-width="0.2" textLength="27" lengthAdjust="spacingAndGlyphs">Second</text>
<text x="121.5" y="523.3" font-size="8.6" text-anchor="middle" stroke="#231f20" stroke-width="0.2" textLength="22.5" lengthAdjust="spacingAndGlyphs">biopsy</text>
<text x="7.2" y="558.8" font-size="10" fill="#000" stroke="#000" stroke-width="0.55" font-weight="bold" textLength="6.5" lengthAdjust="spacingAndGlyphs">E</text>
<text stroke="#231f20" stroke-width="0.2" x="70.0" y="564.3" font-size="9.6" text-anchor="middle" textLength="53.5" lengthAdjust="spacingAndGlyphs"><tspan font-style="italic">PEG10</tspan> allele</text>
<text x="69.2" y="574.6" font-size="9.6" text-anchor="middle" stroke="#231f20" stroke-width="0.2" textLength="44.7" lengthAdjust="spacingAndGlyphs">expression</text>
<rect x="42.1" y="618.92" width="23.2" height="48.48" fill="#3cb44a" />
<rect x="42.1" y="610.84" width="23.2" height="8.08" fill="#134f8a" />
<rect x="42.1" y="602.76" width="23.2" height="8.08" fill="#c8102e" />
<rect x="76.7" y="610.84" width="23.2" height="56.56" fill="#3cb44a" />
<rect x="76.7" y="602.76" width="23.2" height="8.08" fill="#134f8a" />
<line x1="36.4" y1="586" x2="36.4" y2="668" stroke="#231f20" stroke-width="1.2" />
<line x1="35.9" y1="667.4" x2="104.8" y2="667.4" stroke="#231f20" stroke-width="1.2" />
<line x1="33" y1="667.4" x2="36.4" y2="667.4" stroke="#231f20" stroke-width="1" />
<text x="30.8" y="670.23" font-size="8" text-anchor="end" stroke="#231f20" stroke-width="0.2" textLength="4.35" lengthAdjust="spacingAndGlyphs">0</text>
<line x1="33" y1="651.24" x2="36.4" y2="651.24" stroke="#231f20" stroke-width="1" />
<text x="30.8" y="654.07" font-size="8" text-anchor="end" stroke="#231f20" stroke-width="0.2" textLength="4.35" lengthAdjust="spacingAndGlyphs">2</text>
<line x1="33" y1="635.08" x2="36.4" y2="635.08" stroke="#231f20" stroke-width="1" />
<text x="30.8" y="637.91" font-size="8" text-anchor="end" stroke="#231f20" stroke-width="0.2" textLength="4.35" lengthAdjust="spacingAndGlyphs">4</text>
<line x1="33" y1="618.92" x2="36.4" y2="618.92" stroke="#231f20" stroke-width="1" />
<text x="30.8" y="621.75" font-size="8" text-anchor="end" stroke="#231f20" stroke-width="0.2" textLength="4.35" lengthAdjust="spacingAndGlyphs">6</text>
<line x1="33" y1="602.76" x2="36.4" y2="602.76" stroke="#231f20" stroke-width="1" />
<text x="30.8" y="605.59" font-size="8" text-anchor="end" stroke="#231f20" stroke-width="0.2" textLength="4.35" lengthAdjust="spacingAndGlyphs">8</text>
<line x1="33" y1="586.6" x2="36.4" y2="586.6" stroke="#231f20" stroke-width="1" />
<text x="30.8" y="589.43" font-size="8" text-anchor="end" stroke="#231f20" stroke-width="0.2" textLength="8.7" lengthAdjust="spacingAndGlyphs">10</text>
<line x1="53.7" y1="667.4" x2="53.7" y2="670.6" stroke="#231f20" stroke-width="1" />
<line x1="88.3" y1="667.4" x2="88.3" y2="670.6" stroke="#231f20" stroke-width="1" />
<text transform="translate(17.3,626.7) rotate(-90)" x="0" y="0" font-size="10.2" text-anchor="middle" stroke="#231f20" stroke-width="0.2" textLength="27.2" lengthAdjust="spacingAndGlyphs">Number</text>
<rect x="113.1" y="600.3" width="8.8" height="4.6" fill="#c8102e" />
<text x="125.6" y="604.8" font-size="7.6" stroke="#231f20" stroke-width="0.2" textLength="24.2" lengthAdjust="spacingAndGlyphs">Biallelic</text>
<rect x="113.1" y="608.7" width="8.8" height="4.6" fill="#134f8a" />
<text x="125.6" y="613.2" font-size="7.6" stroke="#231f20" stroke-width="0.2" textLength="20.7" lengthAdjust="spacingAndGlyphs">Biased</text>
<rect x="113.1" y="616.8" width="8.8" height="4.6" fill="#3cb44a" />
<text x="125.6" y="621.3" font-size="7.6" stroke="#231f20" stroke-width="0.2" textLength="37.5" lengthAdjust="spacingAndGlyphs">Monoallelic</text>
<text x="53.6" y="680" font-size="8.4" text-anchor="middle" stroke="#231f20" stroke-width="0.2" textLength="27.2" lengthAdjust="spacingAndGlyphs">MF-LCT</text>
<text x="53.7" y="688.7" font-size="8.4" text-anchor="middle" stroke="#231f20" stroke-width="0.2" textLength="22.8" lengthAdjust="spacingAndGlyphs">(n = 8)</text>
<text x="88" y="680" font-size="8.4" text-anchor="middle" stroke="#231f20" stroke-width="0.2" textLength="33.8" lengthAdjust="spacingAndGlyphs">MF-NLCT</text>
<text x="88.3" y="688.7" font-size="8.4" text-anchor="middle" stroke="#231f20" stroke-width="0.2" textLength="22.8" lengthAdjust="spacingAndGlyphs">(n = 8)</text>
<text x="206" y="439.9" font-size="10" fill="#000" stroke="#000" stroke-width="0.55" font-weight="bold" textLength="5.6" lengthAdjust="spacingAndGlyphs">F</text>
<rect x="212.3" y="450" width="86.2" height="4.6" fill="#c8102e" />
<rect x="298.5" y="450.45" width="50.3" height="3.7" fill="#fff" stroke="#231f20" stroke-width="0.9" />
<rect x="348.8" y="450" width="61.2" height="4.6" fill="#c8102e" />
<rect x="410" y="450.45" width="23.3" height="3.7" fill="#fff" stroke="#231f20" stroke-width="0.9" />
<polyline points="410,450.2 410,442.8 416.5,442.8" fill="none" stroke="#231f20" stroke-width="1.0"/>
<polygon points="416,441.3 420.6,442.8 416,444.3" fill="#231f20"/>
<text x="409.3" y="439.3" font-size="7.4" stroke="#231f20" stroke-width="0.2" textLength="12.7" lengthAdjust="spacingAndGlyphs">TSS</text>
<text x="207" y="462.8" font-size="7.6" stroke="#231f20" stroke-width="0.2" textLength="21" lengthAdjust="spacingAndGlyphs">−2000</text>
<text x="291.5" y="462.8" font-size="7.6" stroke="#231f20" stroke-width="0.2" textLength="21.5" lengthAdjust="spacingAndGlyphs">−1148</text>
<text x="343" y="462.8" font-size="7.6" stroke="#231f20" stroke-width="0.2" textLength="16.5" lengthAdjust="spacingAndGlyphs">−635</text>
<text x="407.5" y="462.6" font-size="7.6" stroke="#231f20" stroke-width="0.2" textLength="8.1" lengthAdjust="spacingAndGlyphs">+1</text>
<polyline points="299,467 299,472.5 265.4,498.3" fill="none" stroke="#231f20" stroke-width="1.0"/>
<polyline points="349.5,467 349.5,472.5 386.1,498.3" fill="none" stroke="#231f20" stroke-width="1.0"/>
<rect x="265.4" y="497.8" width="120.7" height="0.8" fill="#c3cbe9" />
<rect x="265.4" y="498.6" width="120.7" height="2.3" fill="#93a3d2" />
<rect x="265.4" y="500.9" width="120.7" height="2.4" fill="#c0c9e8" />
<line x1="265.4" y1="501.3" x2="386.1" y2="501.3" stroke="#000" stroke-width="1.2" />
<polygon points="272.4,501.3 273.8,501.3 273.1,503.5" fill="#000"/>
<polygon points="294.5,501.3 295.9,501.3 295.2,503.5" fill="#000"/>
<polygon points="317.3,501.3 318.7,501.3 318,503.5" fill="#000"/>
<polygon points="341.3,501.3 342.7,501.3 342,503.5" fill="#000"/>
<polygon points="349.7,501.3 351.1,501.3 350.4,503.5" fill="#000"/>
<polygon points="365.8,501.3 367.2,501.3 366.5,503.5" fill="#000"/>
<circle cx="280.5" cy="501.3" r="1.2" fill="#1f5aa6" />
<circle cx="282.3" cy="501.3" r="1.2" fill="#1f5aa6" />
<circle cx="284.2" cy="501.3" r="1.2" fill="#1f5aa6" />
<circle cx="290" cy="501.3" r="1.2" fill="#1f5aa6" />
<circle cx="303.5" cy="501.3" r="1.2" fill="#1f5aa6" />
<circle cx="305.8" cy="501.3" r="1.2" fill="#1f5aa6" />
<circle cx="310.8" cy="501.3" r="1.2" fill="#1f5aa6" />
<circle cx="315.4" cy="501.3" r="1.2" fill="#1f5aa6" />
<circle cx="322.3" cy="501.3" r="1.2" fill="#1f5aa6" />
<circle cx="323.8" cy="501.3" r="1.2" fill="#1f5aa6" />
<circle cx="331.2" cy="501.3" r="1.2" fill="#1f5aa6" />
<circle cx="339.4" cy="501.3" r="1.2" fill="#1f5aa6" />
<circle cx="364" cy="501.3" r="1.2" fill="#1f5aa6" />
<circle cx="366" cy="501.3" r="1.2" fill="#1f5aa6" />
<circle cx="368" cy="501.3" r="1.2" fill="#1f5aa6" />
<circle cx="369.7" cy="501.3" r="1.2" fill="#1f5aa6" />
<circle cx="382.1" cy="501.3" r="1.2" fill="#1f5aa6" />
<circle cx="326.9" cy="501.3" r="1.3" fill="#e8102e" />
<circle cx="328.8" cy="501.3" r="1.3" fill="#e8102e" />
<circle cx="333.1" cy="501.3" r="1.3" fill="#e8102e" />
<circle cx="357.1" cy="501.3" r="1.3" fill="#e8102e" />
<circle cx="376" cy="501.3" r="1.3" fill="#e8102e" />
<circle cx="210.8" cy="492" r="1.1" fill="#1f5aa6" />
<circle cx="210.8" cy="500.3" r="1.1" fill="#e0102e" />
<text x="215.4" y="494.6" font-size="7.8" stroke="#231f20" stroke-width="0.2" textLength="28.1" lengthAdjust="spacingAndGlyphs">Covered</text>
<text x="215.4" y="502.9" font-size="7.8" stroke="#231f20" stroke-width="0.2" textLength="41.2" lengthAdjust="spacingAndGlyphs">Not covered</text>
<text stroke="#231f20" stroke-width="0.2" x="281.6" y="516.6" font-size="9.2" textLength="87.8" lengthAdjust="spacingAndGlyphs"><tspan font-style="italic">PEG10</tspan>-promoter CpG sites</text>
<text x="180" y="558.8" font-size="10.2" fill="#000" stroke="#000" stroke-width="0.55" font-weight="bold" textLength="8.8" lengthAdjust="spacingAndGlyphs">G</text>
<text stroke="#231f20" stroke-width="0.2" x="266.8" y="543.7" font-size="9.8" textLength="71.3" lengthAdjust="spacingAndGlyphs"><tspan font-style="italic">PEG10</tspan>-promoter</text>
<line x1="229.3" y1="557" x2="229.3" y2="673" stroke="#231f20" stroke-width="1.2" />
<line x1="228.8" y1="672.5" x2="376.3" y2="672.5" stroke="#231f20" stroke-width="1.2" />
<line x1="226.2" y1="672.5" x2="229.3" y2="672.5" stroke="#231f20" stroke-width="1" />
<text x="223.5" y="675.33" font-size="8" text-anchor="end" stroke="#231f20" stroke-width="0.2" textLength="10.4" lengthAdjust="spacingAndGlyphs">0.0</text>
<line x1="226.2" y1="643.75" x2="229.3" y2="643.75" stroke="#231f20" stroke-width="1" />
<text x="223.5" y="646.58" font-size="8" text-anchor="end" stroke="#231f20" stroke-width="0.2" textLength="10.4" lengthAdjust="spacingAndGlyphs">0.2</text>
<line x1="226.2" y1="615" x2="229.3" y2="615" stroke="#231f20" stroke-width="1" />
<text x="223.5" y="617.83" font-size="8" text-anchor="end" stroke="#231f20" stroke-width="0.2" textLength="10.4" lengthAdjust="spacingAndGlyphs">0.4</text>
<line x1="226.2" y1="586.25" x2="229.3" y2="586.25" stroke="#231f20" stroke-width="1" />
<text x="223.5" y="589.08" font-size="8" text-anchor="end" stroke="#231f20" stroke-width="0.2" textLength="10.4" lengthAdjust="spacingAndGlyphs">0.6</text>
<line x1="226.2" y1="557.5" x2="229.3" y2="557.5" stroke="#231f20" stroke-width="1" />
<text x="223.5" y="560.33" font-size="8" text-anchor="end" stroke="#231f20" stroke-width="0.2" textLength="10.4" lengthAdjust="spacingAndGlyphs">0.8</text>
<line x1="229.3" y1="672.5" x2="229.3" y2="675.5" stroke="#231f20" stroke-width="1" />
<text x="229.3" y="685.2" font-size="8.2" text-anchor="middle" stroke="#231f20" stroke-width="0.2" textLength="4.35" lengthAdjust="spacingAndGlyphs">0</text>
<line x1="241.5" y1="672.5" x2="241.5" y2="675.5" stroke="#231f20" stroke-width="1" />
<text x="241.5" y="685.2" font-size="8.2" text-anchor="middle" stroke="#231f20" stroke-width="0.2" textLength="4.35" lengthAdjust="spacingAndGlyphs">2</text>
<line x1="253.7" y1="672.5" x2="253.7" y2="675.5" stroke="#231f20" stroke-width="1" />
<text x="253.7" y="685.2" font-size="8.2" text-anchor="middle" stroke="#231f20" stroke-width="0.2" textLength="4.35" lengthAdjust="spacingAndGlyphs">4</text>
<line x1="265.9" y1="672.5" x2="265.9" y2="675.5" stroke="#231f20" stroke-width="1" />
<text x="265.9" y="685.2" font-size="8.2" text-anchor="middle" stroke="#231f20" stroke-width="0.2" textLength="4.35" lengthAdjust="spacingAndGlyphs">6</text>
<line x1="278.1" y1="672.5" x2="278.1" y2="675.5" stroke="#231f20" stroke-width="1" />
<text x="278.1" y="685.2" font-size="8.2" text-anchor="middle" stroke="#231f20" stroke-width="0.2" textLength="4.35" lengthAdjust="spacingAndGlyphs">8</text>
<line x1="290.3" y1="672.5" x2="290.3" y2="675.5" stroke="#231f20" stroke-width="1" />
<text x="290.3" y="685.2" font-size="8.2" text-anchor="middle" stroke="#231f20" stroke-width="0.2" textLength="8.7" lengthAdjust="spacingAndGlyphs">10</text>
<line x1="302.5" y1="672.5" x2="302.5" y2="675.5" stroke="#231f20" stroke-width="1" />
<text x="302.5" y="685.2" font-size="8.2" text-anchor="middle" stroke="#231f20" stroke-width="0.2" textLength="8.7" lengthAdjust="spacingAndGlyphs">12</text>
<line x1="314.7" y1="672.5" x2="314.7" y2="675.5" stroke="#231f20" stroke-width="1" />
<text x="314.7" y="685.2" font-size="8.2" text-anchor="middle" stroke="#231f20" stroke-width="0.2" textLength="8.7" lengthAdjust="spacingAndGlyphs">14</text>
<line x1="326.9" y1="672.5" x2="326.9" y2="675.5" stroke="#231f20" stroke-width="1" />
<text x="326.9" y="685.2" font-size="8.2" text-anchor="middle" stroke="#231f20" stroke-width="0.2" textLength="8.7" lengthAdjust="spacingAndGlyphs">16</text>
<line x1="339.1" y1="672.5" x2="339.1" y2="675.5" stroke="#231f20" stroke-width="1" />
<text x="339.1" y="685.2" font-size="8.2" text-anchor="middle" stroke="#231f20" stroke-width="0.2" textLength="8.7" lengthAdjust="spacingAndGlyphs">18</text>
<line x1="351.3" y1="672.5" x2="351.3" y2="675.5" stroke="#231f20" stroke-width="1" />
<text x="351.3" y="685.2" font-size="8.2" text-anchor="middle" stroke="#231f20" stroke-width="0.2" textLength="8.7" lengthAdjust="spacingAndGlyphs">20</text>
<line x1="363.5" y1="672.5" x2="363.5" y2="675.5" stroke="#231f20" stroke-width="1" />
<text x="363.5" y="685.2" font-size="8.2" text-anchor="middle" stroke="#231f20" stroke-width="0.2" textLength="8.7" lengthAdjust="spacingAndGlyphs">22</text>
<line x1="375.7" y1="672.5" x2="375.7" y2="675.5" stroke="#231f20" stroke-width="1" />
<text x="375.7" y="685.2" font-size="8.2" text-anchor="middle" stroke="#231f20" stroke-width="0.2" textLength="8.7" lengthAdjust="spacingAndGlyphs">24</text>
<text x="302.9" y="698" font-size="9.8" text-anchor="middle" stroke="#231f20" stroke-width="0.2" textLength="30.8" lengthAdjust="spacingAndGlyphs">CpG sites</text>
<text transform="translate(206.5,615.2) rotate(-90)" x="0" y="0" font-size="9.6" text-anchor="middle" stroke="#231f20" stroke-width="0.2" textLength="58" lengthAdjust="spacingAndGlyphs">Methylation level</text>
<line x1="235.4" y1="645.19" x2="235.4" y2="672.5" stroke="#3f7ab8" stroke-width="0.9" />
<line x1="233.4" y1="645.19" x2="237.4" y2="645.19" stroke="#3f7ab8" stroke-width="0.9" />
<line x1="233.4" y1="672.5" x2="237.4" y2="672.5" stroke="#3f7ab8" stroke-width="0.9" />
<line x1="241.5" y1="616.44" x2="241.5" y2="665.31" stroke="#3f7ab8" stroke-width="0.9" />
<line x1="239.5" y1="616.44" x2="243.5" y2="616.44" stroke="#3f7ab8" stroke-width="0.9" />
<line x1="239.5" y1="665.31" x2="243.5" y2="665.31" stroke="#3f7ab8" stroke-width="0.9" />
<line x1="247.6" y1="663.88" x2="247.6" y2="671.06" stroke="#3f7ab8" stroke-width="0.9" />
<line x1="245.6" y1="663.88" x2="249.6" y2="663.88" stroke="#3f7ab8" stroke-width="0.9" />
<line x1="245.6" y1="671.06" x2="249.6" y2="671.06" stroke="#3f7ab8" stroke-width="0.9" />
<line x1="253.7" y1="647.34" x2="253.7" y2="672.5" stroke="#3f7ab8" stroke-width="0.9" />
<line x1="251.7" y1="647.34" x2="255.7" y2="647.34" stroke="#3f7ab8" stroke-width="0.9" />
<line x1="251.7" y1="672.5" x2="255.7" y2="672.5" stroke="#3f7ab8" stroke-width="0.9" />
<line x1="259.8" y1="662.44" x2="259.8" y2="671.06" stroke="#3f7ab8" stroke-width="0.9" />
<line x1="257.8" y1="662.44" x2="261.8" y2="662.44" stroke="#3f7ab8" stroke-width="0.9" />
<line x1="257.8" y1="671.06" x2="261.8" y2="671.06" stroke="#3f7ab8" stroke-width="0.9" />
<line x1="265.9" y1="655.25" x2="265.9" y2="672.5" stroke="#3f7ab8" stroke-width="0.9" />
<line x1="263.9" y1="655.25" x2="267.9" y2="655.25" stroke="#3f7ab8" stroke-width="0.9" />
<line x1="263.9" y1="672.5" x2="267.9" y2="672.5" stroke="#3f7ab8" stroke-width="0.9" />
<line x1="272" y1="557.5" x2="272" y2="653.09" stroke="#3f7ab8" stroke-width="0.9" />
<line x1="270" y1="653.09" x2="274" y2="653.09" stroke="#3f7ab8" stroke-width="0.9" />
<line x1="278.1" y1="635.12" x2="278.1" y2="665.31" stroke="#3f7ab8" stroke-width="0.9" />
<line x1="276.1" y1="635.12" x2="280.1" y2="635.12" stroke="#3f7ab8" stroke-width="0.9" />
<line x1="276.1" y1="665.31" x2="280.1" y2="665.31" stroke="#3f7ab8" stroke-width="0.9" />
<line x1="302.5" y1="646.62" x2="302.5" y2="661" stroke="#3f7ab8" stroke-width="0.9" />
<line x1="300.5" y1="646.62" x2="304.5" y2="646.62" stroke="#3f7ab8" stroke-width="0.9" />
<line x1="300.5" y1="661" x2="304.5" y2="661" stroke="#3f7ab8" stroke-width="0.9" />
<line x1="314.7" y1="665.31" x2="314.7" y2="672.5" stroke="#3f7ab8" stroke-width="0.9" />
<line x1="312.7" y1="665.31" x2="316.7" y2="665.31" stroke="#3f7ab8" stroke-width="0.9" />
<line x1="312.7" y1="672.5" x2="316.7" y2="672.5" stroke="#3f7ab8" stroke-width="0.9" />
<line x1="320.8" y1="633.69" x2="320.8" y2="672.5" stroke="#3f7ab8" stroke-width="0.9" />
<line x1="318.8" y1="633.69" x2="322.8" y2="633.69" stroke="#3f7ab8" stroke-width="0.9" />
<line x1="318.8" y1="672.5" x2="322.8" y2="672.5" stroke="#3f7ab8" stroke-width="0.9" />
<line x1="333" y1="639.44" x2="333" y2="666.75" stroke="#3f7ab8" stroke-width="0.9" />
<line x1="331" y1="639.44" x2="335" y2="639.44" stroke="#3f7ab8" stroke-width="0.9" />
<line x1="331" y1="666.75" x2="335" y2="666.75" stroke="#3f7ab8" stroke-width="0.9" />
<line x1="339.1" y1="648.78" x2="339.1" y2="668.19" stroke="#3f7ab8" stroke-width="0.9" />
<line x1="337.1" y1="648.78" x2="341.1" y2="648.78" stroke="#3f7ab8" stroke-width="0.9" />
<line x1="337.1" y1="668.19" x2="341.1" y2="668.19" stroke="#3f7ab8" stroke-width="0.9" />
<line x1="357.4" y1="658.12" x2="357.4" y2="668.19" stroke="#3f7ab8" stroke-width="0.9" />
<line x1="355.4" y1="658.12" x2="359.4" y2="658.12" stroke="#3f7ab8" stroke-width="0.9" />
<line x1="355.4" y1="668.19" x2="359.4" y2="668.19" stroke="#3f7ab8" stroke-width="0.9" />
<line x1="369.6" y1="671.06" x2="369.6" y2="672.5" stroke="#3f7ab8" stroke-width="0.9" />
<line x1="367.6" y1="671.06" x2="371.6" y2="671.06" stroke="#3f7ab8" stroke-width="0.9" />
<line x1="367.6" y1="672.5" x2="371.6" y2="672.5" stroke="#3f7ab8" stroke-width="0.9" />
<polyline points="235.4,663.88 241.5,641.45 247.6,667.47 253.7,663.16 259.8,666.75 265.9,661.72 272,598.61 278.1,650.08 302.5,653.67 314.7,668.48 320.8,656.98 333,652.95 339.1,658.56 357.4,662.87 369.6,671.49" fill="none" stroke="#1b5a94" stroke-width="1.5"/>
<circle cx="235.4" cy="663.88" r="2" fill="#1b5a94" />
<circle cx="241.5" cy="641.45" r="2" fill="#1b5a94" />
<circle cx="247.6" cy="667.47" r="2" fill="#1b5a94" />
<circle cx="253.7" cy="663.16" r="2" fill="#1b5a94" />
<circle cx="259.8" cy="666.75" r="2" fill="#1b5a94" />
<circle cx="265.9" cy="661.72" r="2" fill="#1b5a94" />
<circle cx="272" cy="598.61" r="2" fill="#1b5a94" />
<circle cx="278.1" cy="650.08" r="2" fill="#1b5a94" />
<circle cx="302.5" cy="653.67" r="2" fill="#1b5a94" />
<circle cx="314.7" cy="668.48" r="2" fill="#1b5a94" />
<circle cx="320.8" cy="656.98" r="2" fill="#1b5a94" />
<circle cx="333" cy="652.95" r="2" fill="#1b5a94" />
<circle cx="339.1" cy="658.56" r="2" fill="#1b5a94" />
<circle cx="357.4" cy="662.87" r="2" fill="#1b5a94" />
<circle cx="369.6" cy="671.49" r="2" fill="#1b5a94" />
<line x1="235.4" y1="671.06" x2="235.4" y2="672.5" stroke="#dc4a5e" stroke-width="0.9" />
<line x1="233.4" y1="671.06" x2="237.4" y2="671.06" stroke="#dc4a5e" stroke-width="0.9" />
<line x1="233.4" y1="672.5" x2="237.4" y2="672.5" stroke="#dc4a5e" stroke-width="0.9" />
<line x1="241.5" y1="652.38" x2="241.5" y2="665.31" stroke="#dc4a5e" stroke-width="0.9" />
<line x1="239.5" y1="652.38" x2="243.5" y2="652.38" stroke="#dc4a5e" stroke-width="0.9" />
<line x1="239.5" y1="665.31" x2="243.5" y2="665.31" stroke="#dc4a5e" stroke-width="0.9" />
<line x1="247.6" y1="665.31" x2="247.6" y2="672.5" stroke="#dc4a5e" stroke-width="0.9" />
<line x1="245.6" y1="665.31" x2="249.6" y2="665.31" stroke="#dc4a5e" stroke-width="0.9" />
<line x1="245.6" y1="672.5" x2="249.6" y2="672.5" stroke="#dc4a5e" stroke-width="0.9" />
<line x1="253.7" y1="658.12" x2="253.7" y2="672.5" stroke="#dc4a5e" stroke-width="0.9" />
<line x1="251.7" y1="658.12" x2="255.7" y2="658.12" stroke="#dc4a5e" stroke-width="0.9" />
<line x1="251.7" y1="672.5" x2="255.7" y2="672.5" stroke="#dc4a5e" stroke-width="0.9" />
<line x1="259.8" y1="663.88" x2="259.8" y2="672.5" stroke="#dc4a5e" stroke-width="0.9" />
<line x1="257.8" y1="663.88" x2="261.8" y2="663.88" stroke="#dc4a5e" stroke-width="0.9" />
<line x1="257.8" y1="672.5" x2="261.8" y2="672.5" stroke="#dc4a5e" stroke-width="0.9" />
<line x1="265.9" y1="652.38" x2="265.9" y2="672.5" stroke="#dc4a5e" stroke-width="0.9" />
<line x1="263.9" y1="652.38" x2="267.9" y2="652.38" stroke="#dc4a5e" stroke-width="0.9" />
<line x1="263.9" y1="672.5" x2="267.9" y2="672.5" stroke="#dc4a5e" stroke-width="0.9" />
<line x1="272" y1="564.69" x2="272" y2="672.5" stroke="#dc4a5e" stroke-width="0.9" />
<line x1="270" y1="564.69" x2="274" y2="564.69" stroke="#dc4a5e" stroke-width="0.9" />
<line x1="270" y1="672.5" x2="274" y2="672.5" stroke="#dc4a5e" stroke-width="0.9" />
<line x1="278.1" y1="656.69" x2="278.1" y2="666.75" stroke="#dc4a5e" stroke-width="0.9" />
<line x1="276.1" y1="656.69" x2="280.1" y2="656.69" stroke="#dc4a5e" stroke-width="0.9" />
<line x1="276.1" y1="666.75" x2="280.1" y2="666.75" stroke="#dc4a5e" stroke-width="0.9" />
<line x1="302.5" y1="662.44" x2="302.5" y2="672.5" stroke="#dc4a5e" stroke-width="0.9" />
<line x1="300.5" y1="662.44" x2="304.5" y2="662.44" stroke="#dc4a5e" stroke-width="0.9" />
<line x1="300.5" y1="672.5" x2="304.5" y2="672.5" stroke="#dc4a5e" stroke-width="0.9" />
<line x1="314.7" y1="671.06" x2="314.7" y2="672.5" stroke="#dc4a5e" stroke-width="0.9" />
<line x1="312.7" y1="671.06" x2="316.7" y2="671.06" stroke="#dc4a5e" stroke-width="0.9" />
<line x1="312.7" y1="672.5" x2="316.7" y2="672.5" stroke="#dc4a5e" stroke-width="0.9" />
<line x1="320.8" y1="672.5" x2="320.8" y2="672.5" stroke="#dc4a5e" stroke-width="0.9" />
<line x1="318.8" y1="672.5" x2="322.8" y2="672.5" stroke="#dc4a5e" stroke-width="0.9" />
<line x1="318.8" y1="672.5" x2="322.8" y2="672.5" stroke="#dc4a5e" stroke-width="0.9" />
<line x1="333" y1="663.88" x2="333" y2="672.5" stroke="#dc4a5e" stroke-width="0.9" />
<line x1="331" y1="663.88" x2="335" y2="663.88" stroke="#dc4a5e" stroke-width="0.9" />
<line x1="331" y1="672.5" x2="335" y2="672.5" stroke="#dc4a5e" stroke-width="0.9" />
<line x1="339.1" y1="665.31" x2="339.1" y2="672.5" stroke="#dc4a5e" stroke-width="0.9" />
<line x1="337.1" y1="665.31" x2="341.1" y2="665.31" stroke="#dc4a5e" stroke-width="0.9" />
<line x1="337.1" y1="672.5" x2="341.1" y2="672.5" stroke="#dc4a5e" stroke-width="0.9" />
<line x1="357.4" y1="668.19" x2="357.4" y2="672.5" stroke="#dc4a5e" stroke-width="0.9" />
<line x1="355.4" y1="668.19" x2="359.4" y2="668.19" stroke="#dc4a5e" stroke-width="0.9" />
<line x1="355.4" y1="672.5" x2="359.4" y2="672.5" stroke="#dc4a5e" stroke-width="0.9" />
<line x1="369.6" y1="671.06" x2="369.6" y2="672.5" stroke="#dc4a5e" stroke-width="0.9" />
<line x1="367.6" y1="671.06" x2="371.6" y2="671.06" stroke="#dc4a5e" stroke-width="0.9" />
<line x1="367.6" y1="672.5" x2="371.6" y2="672.5" stroke="#dc4a5e" stroke-width="0.9" />
<polyline points="235.4,671.78 241.5,658.27 247.6,669.34 253.7,665.31 259.8,669.05 265.9,663.88 272,622.33 278.1,661.43 302.5,666.32 314.7,671.78 320.8,672.5 333,668.62 339.1,668.62 357.4,670.34 369.6,671.78" fill="none" stroke="#c8102e" stroke-width="1.5"/>
<circle cx="235.4" cy="671.78" r="2" fill="#c8102e" />
<circle cx="241.5" cy="658.27" r="2" fill="#c8102e" />
<circle cx="247.6" cy="669.34" r="2" fill="#c8102e" />
<circle cx="253.7" cy="665.31" r="2" fill="#c8102e" />
<circle cx="259.8" cy="669.05" r="2" fill="#c8102e" />
<circle cx="265.9" cy="663.88" r="2" fill="#c8102e" />
<circle cx="272" cy="622.33" r="2" fill="#c8102e" />
<circle cx="278.1" cy="661.43" r="2" fill="#c8102e" />
<circle cx="302.5" cy="666.32" r="2" fill="#c8102e" />
<circle cx="314.7" cy="671.78" r="2" fill="#c8102e" />
<circle cx="320.8" cy="672.5" r="2" fill="#c8102e" />
<circle cx="333" cy="668.62" r="2" fill="#c8102e" />
<circle cx="339.1" cy="668.62" r="2" fill="#c8102e" />
<circle cx="357.4" cy="670.34" r="2" fill="#c8102e" />
<circle cx="369.6" cy="671.78" r="2" fill="#c8102e" />
<line x1="326" y1="570.9" x2="334.5" y2="570.9" stroke="#c8102e" stroke-width="1.2" />
<circle cx="330.3" cy="570.9" r="1.8" fill="#c8102e" />
<line x1="326" y1="578.6" x2="334.5" y2="578.6" stroke="#1b5a94" stroke-width="1.2" />
<circle cx="330.3" cy="578.6" r="1.8" fill="#1b5a94" />
<text x="336.4" y="572.8" font-size="7.8" stroke="#231f20" stroke-width="0.2" textLength="26.5" lengthAdjust="spacingAndGlyphs">MF-LCT</text>
<text x="336.4" y="580.8" font-size="7.8" stroke="#231f20" stroke-width="0.2" textLength="32.5" lengthAdjust="spacingAndGlyphs">MF-NLCT</text>
<text stroke="#231f20" stroke-width="0.2" x="436.9" y="573.2" font-size="9.8" textLength="71.3" lengthAdjust="spacingAndGlyphs"><tspan font-style="italic">PEG10</tspan>-promoter</text>
<rect x="444.2" y="649.69" width="22" height="23.71" fill="#e99b8f" stroke="#d9776b" stroke-width="0.7" />
<rect x="479.3" y="627.22" width="22" height="46.18" fill="#95a3cf" stroke="#7a8cc0" stroke-width="0.7" />
<line x1="437.1" y1="589.6" x2="437.1" y2="674" stroke="#231f20" stroke-width="1.2" />
<line x1="436.6" y1="673.4" x2="507.3" y2="673.4" stroke="#231f20" stroke-width="1.2" />
<line x1="434" y1="673.4" x2="437.1" y2="673.4" stroke="#231f20" stroke-width="1" />
<text x="431.5" y="676.37" font-size="8.4" text-anchor="end" stroke="#231f20" stroke-width="0.2" textLength="14.9" lengthAdjust="spacingAndGlyphs">0.00</text>
<line x1="434" y1="652.6" x2="437.1" y2="652.6" stroke="#231f20" stroke-width="1" />
<text x="431.5" y="655.57" font-size="8.4" text-anchor="end" stroke="#231f20" stroke-width="0.2" textLength="14.9" lengthAdjust="spacingAndGlyphs">0.05</text>
<line x1="434" y1="631.8" x2="437.1" y2="631.8" stroke="#231f20" stroke-width="1" />
<text x="431.5" y="634.77" font-size="8.4" text-anchor="end" stroke="#231f20" stroke-width="0.2" textLength="14.9" lengthAdjust="spacingAndGlyphs">0.10</text>
<line x1="434" y1="611" x2="437.1" y2="611" stroke="#231f20" stroke-width="1" />
<text x="431.5" y="613.97" font-size="8.4" text-anchor="end" stroke="#231f20" stroke-width="0.2" textLength="14.9" lengthAdjust="spacingAndGlyphs">0.15</text>
<line x1="434" y1="590.2" x2="437.1" y2="590.2" stroke="#231f20" stroke-width="1" />
<text x="431.5" y="593.17" font-size="8.4" text-anchor="end" stroke="#231f20" stroke-width="0.2" textLength="14.9" lengthAdjust="spacingAndGlyphs">0.20</text>
<line x1="455.1" y1="673.4" x2="455.1" y2="676.6" stroke="#231f20" stroke-width="1" />
<line x1="490.2" y1="673.4" x2="490.2" y2="676.6" stroke="#231f20" stroke-width="1" />
<circle cx="455.1" cy="618.5" r="2.15" fill="#c8102e" />
<circle cx="454.6" cy="647.3" r="2.15" fill="#c8102e" />
<circle cx="450.1" cy="652.3" r="2.15" fill="#c8102e" />
<circle cx="460.2" cy="652.3" r="2.15" fill="#c8102e" />
<circle cx="450.1" cy="660.8" r="2.15" fill="#c8102e" />
<circle cx="460.2" cy="660.8" r="2.15" fill="#c8102e" />
<circle cx="490.2" cy="605.2" r="2.15" fill="#1a5a96" />
<circle cx="490.2" cy="612.7" r="2.15" fill="#1a5a96" />
<circle cx="490.2" cy="621.5" r="2.15" fill="#1a5a96" />
<circle cx="484.7" cy="632.8" r="2.15" fill="#1a5a96" />
<circle cx="494.7" cy="638.3" r="2.15" fill="#1a5a96" />
<circle cx="490.2" cy="648.3" r="2.15" fill="#1a5a96" />
<line x1="455.1" y1="633.5" x2="455.1" y2="665.3" stroke="#231f20" stroke-width="1" />
<line x1="448.9" y1="633.5" x2="461.4" y2="633.5" stroke="#231f20" stroke-width="1" />
<line x1="448.9" y1="665.3" x2="461.4" y2="665.3" stroke="#231f20" stroke-width="1" />
<line x1="490.2" y1="610.7" x2="490.2" y2="643.3" stroke="#231f20" stroke-width="1" />
<line x1="484" y1="610.7" x2="496.4" y2="610.7" stroke="#231f20" stroke-width="1" />
<line x1="484" y1="643.3" x2="496.4" y2="643.3" stroke="#231f20" stroke-width="1" />
<polyline points="455.1,611.9 455.1,587.0 490.2,587.0 490.2,599.4" fill="none" stroke="#231f20" stroke-width="1.0"/>
<polygon points="472.4,581.8 472.75,582.61 473.64,582.7 472.97,583.29 473.16,584.15 472.4,583.7 471.64,584.15 471.83,583.29 471.16,582.7 472.05,582.61" fill="#231f20"/>
<text transform="translate(409.8,631.9) rotate(-90)" x="0" y="0" font-size="9.6" text-anchor="middle" stroke="#231f20" stroke-width="0.2" textLength="86" lengthAdjust="spacingAndGlyphs">Average methylation level</text>
<text x="455.4" y="685.7" font-size="8.4" text-anchor="middle" stroke="#231f20" stroke-width="0.2" textLength="28.5" lengthAdjust="spacingAndGlyphs">MF-LCT</text>
<text x="455.1" y="694.2" font-size="8.4" text-anchor="middle" stroke="#231f20" stroke-width="0.2" textLength="22.8" lengthAdjust="spacingAndGlyphs">(n = 6)</text>
<text x="489.8" y="685.7" font-size="8.4" text-anchor="middle" stroke="#231f20" stroke-width="0.2" textLength="33.2" lengthAdjust="spacingAndGlyphs">MF-NLCT</text>
<text x="490.2" y="694.2" font-size="8.4" text-anchor="middle" stroke="#231f20" stroke-width="0.2" textLength="22.8" lengthAdjust="spacingAndGlyphs">(n = 6)</text>
<rect x="0.5" y="0.5" width="519" height="706" fill="none" stroke="#000" stroke-width="1"/>
</svg></body></html>
